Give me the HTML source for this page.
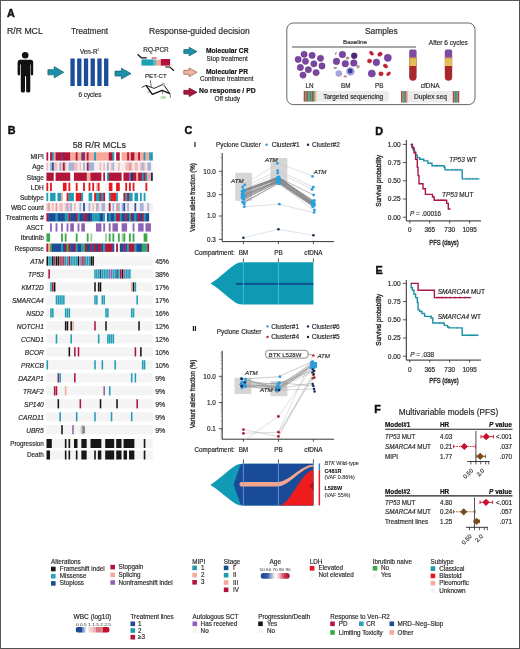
<!DOCTYPE html>
<html><head><meta charset="utf-8"><style>
html,body{margin:0;padding:0;background:#fff;}
body{width:520px;height:649px;overflow:hidden;}
svg{display:block;font-family:"Liberation Sans", sans-serif;will-change:transform;}
</style></head><body>
<svg width="520" height="649" viewBox="0 0 520 649">
<rect x="0" y="0" width="520" height="649" fill="#fff"/>
<text x="7.00" y="16.60" font-size="10.8" font-weight="bold" fill="#111" stroke="#111" stroke-width="0.45">A</text>
<text x="7.00" y="34.20" font-size="8.7" fill="#2a2a2a" stroke="#2a2a2a" stroke-width="0.18">R/R MCL</text>
<text x="71.00" y="34.20" font-size="8.2" fill="#2a2a2a" stroke="#2a2a2a" stroke-width="0.18">Treatment</text>
<text x="149.00" y="34.20" font-size="8.55" fill="#2a2a2a" stroke="#2a2a2a" stroke-width="0.18">Response-guided decision</text>
<circle cx="25.20" cy="55.30" r="3.30" fill="#111" stroke="none" stroke-width="0.5"/>
<path d="M19.8,59.8 L30.6,59.8 Q33.2,59.8 33.2,62.4 L33.2,74 Q33.2,75.4 32,75.4 Q30.8,75.4 30.8,74 L30.8,64.6 L30.3,64.6 L30.3,91 Q30.3,92.6 28.3,92.6 Q26.1,92.6 26.1,91 L26.1,76.2 L25.0,76.2 L25.0,91 Q25.0,92.6 23.0,92.6 Q20.8,92.6 20.8,91 L20.8,64.6 L20.1,64.6 L20.1,74 Q20.1,75.4 18.9,75.4 Q17.6,75.4 17.6,74 L17.6,62.4 Q17.6,59.8 19.8,59.8 Z" fill="#111"/>
<polygon points="47.90,69.65 54.26,69.65 54.26,66.60 63.80,72.25 54.26,77.90 54.26,74.85 47.90,74.85" fill="#1d8fa8" stroke="#14606f" stroke-width="0.7" stroke-linejoin="round"/>
<polygon points="115.00,71.12 121.40,71.12 121.40,68.20 131.00,73.60 121.40,79.00 121.40,76.08 115.00,76.08" fill="#1d8fa8" stroke="#14606f" stroke-width="0.7" stroke-linejoin="round"/>
<rect x="70.40" y="58.50" width="4.30" height="27.50" fill="#1b4d9b"/>
<rect x="77.13" y="58.50" width="4.30" height="27.50" fill="#1b4d9b"/>
<rect x="83.86" y="58.50" width="4.30" height="27.50" fill="#1b4d9b"/>
<rect x="90.59" y="58.50" width="4.30" height="27.50" fill="#1b4d9b"/>
<rect x="97.32" y="58.50" width="4.30" height="27.50" fill="#1b4d9b"/>
<rect x="104.05" y="58.50" width="4.30" height="27.50" fill="#1b4d9b"/>
<text x="80.00" y="53.70" font-size="6.3" fill="#2a2a2a" stroke="#2a2a2a" stroke-width="0.17">Ven-R</text>
<text x="97.30" y="51.00" font-size="3.6" fill="#2a2a2a">2</text>
<text x="78.40" y="96.70" font-size="6.4" fill="#2a2a2a" stroke="#2a2a2a" stroke-width="0.18">6 cycles</text>
<text x="143.30" y="51.80" font-size="6.45" fill="#2a2a2a" stroke="#2a2a2a" stroke-width="0.18">RQ-PCR</text>
<polyline points="137.50,54.30 141.40,57.80 146.80,57.80" fill="none" stroke="#111" stroke-width="1.15"/>
<rect x="141.50" y="59.40" width="11.80" height="6.20" fill="#1d9fb2"/>
<rect x="153.00" y="59.60" width="3.60" height="6.00" fill="#5fb5c0"/>
<rect x="156.30" y="59.60" width="4.90" height="6.00" fill="#f2a898"/>
<rect x="160.90" y="59.00" width="9.20" height="6.60" fill="#b2133c"/>
<line x1="151.60" y1="58.00" x2="156.60" y2="58.00" stroke="#b2133c" stroke-width="1.0"/>
<polyline points="165.20,67.00 169.80,67.00 174.00,70.80" fill="none" stroke="#111" stroke-width="1.15"/>
<text x="145.00" y="77.80" font-size="6.1" fill="#2a2a2a" stroke="#2a2a2a" stroke-width="0.15">PET-CT</text>
<path d="M141.7,87.5 L146,85.3" stroke="#111" stroke-width="0.8" fill="none"/>
<path d="M146,85.3 L152.3,94.4 L162.1,90.4 L169.8,93.7" stroke="#111" stroke-width="1.35" fill="none" stroke-linejoin="round"/>
<path d="M146,85.3 L154,88.4 L162.6,84.6" stroke="#111" stroke-width="0.9" fill="none"/>
<path d="M164.2,85.4 L169.8,93.7" stroke="#111" stroke-width="1.0" fill="none"/>
<circle cx="163.40" cy="84.20" r="0.90" fill="none" stroke="#333" stroke-width="0.5"/>
<path d="M150.4,80.2 L151.2,87.0" stroke="#111" stroke-width="0.6" fill="none"/>
<path d="M170.2,93.7 L170.4,97.7" stroke="#111" stroke-width="0.6" fill="none"/>
<path d="M147.5,92.3 L149.6,91.8" stroke="#111" stroke-width="0.5" fill="none"/>
<path d="M162.1,90.4 L162.6,94.2" stroke="#111" stroke-width="0.5" fill="none"/>
<text x="160.00" y="99.20" font-size="3.6" fill="#6ab26a">18F</text>
<polygon points="183.80,49.58 189.08,49.58 189.08,47.20 197.00,51.60 189.08,56.00 189.08,53.62 183.80,53.62" fill="#1d8fa8" stroke="#14606f" stroke-width="0.7" stroke-linejoin="round"/>
<polygon points="183.80,70.32 189.08,70.32 189.08,68.00 197.00,72.30 189.08,76.60 189.08,74.28 183.80,74.28" fill="#f2b3a0" stroke="#8a5a48" stroke-width="0.7" stroke-linejoin="round"/>
<polygon points="183.80,90.32 189.08,90.32 189.08,88.00 197.00,92.30 189.08,96.60 189.08,94.28 183.80,94.28" fill="#a9163c" stroke="#6a0a22" stroke-width="0.7" stroke-linejoin="round"/>
<text x="206.00" y="53.00" font-size="6.65" font-weight="bold" fill="#111" stroke="#111" stroke-width="0.18">Molecular CR</text>
<text x="206.50" y="60.60" font-size="6.3" fill="#2a2a2a" stroke="#2a2a2a" stroke-width="0.17">Stop treatment</text>
<text x="206.00" y="73.70" font-size="6.65" font-weight="bold" fill="#111" stroke="#111" stroke-width="0.18">Molecular PR</text>
<text x="200.00" y="81.30" font-size="6.3" fill="#2a2a2a" stroke="#2a2a2a" stroke-width="0.17">Continue treatment</text>
<text x="199.00" y="92.90" font-size="6.85" font-weight="bold" fill="#111" stroke="#111" stroke-width="0.18">No response / PD</text>
<text x="214.60" y="100.50" font-size="6.4" fill="#2a2a2a" stroke="#2a2a2a" stroke-width="0.18">Off study</text>
<rect x="286.8" y="23.0" width="188.2" height="81.6" rx="6.5" ry="6.5" fill="none" stroke="#555" stroke-width="0.9"/>
<text x="365.00" y="34.30" font-size="8.4" fill="#2a2a2a" stroke="#2a2a2a" stroke-width="0.18">Samples</text>
<text x="343.00" y="44.30" font-size="6.25" fill="#2a2a2a" stroke="#2a2a2a" stroke-width="0.17">Baseline</text>
<line x1="292.00" y1="47.00" x2="416.00" y2="47.00" stroke="#8a8a8a" stroke-width="1.3"/>
<text x="428.80" y="44.50" font-size="6.5" fill="#2a2a2a" stroke="#2a2a2a" stroke-width="0.18">After 6 cycles</text>
<circle cx="304.10" cy="54.30" r="3.15" fill="#7a46a2" stroke="#5a2d80" stroke-width="0.45"/>
<circle cx="312.10" cy="55.40" r="3.15" fill="#7a46a2" stroke="#5a2d80" stroke-width="0.45"/>
<circle cx="298.20" cy="59.40" r="3.15" fill="#7a46a2" stroke="#5a2d80" stroke-width="0.45"/>
<circle cx="305.50" cy="61.30" r="3.15" fill="#7a46a2" stroke="#5a2d80" stroke-width="0.45"/>
<circle cx="320.50" cy="58.30" r="3.15" fill="#7a46a2" stroke="#5a2d80" stroke-width="0.45"/>
<circle cx="313.90" cy="63.80" r="3.15" fill="#7a46a2" stroke="#5a2d80" stroke-width="0.45"/>
<circle cx="322.00" cy="66.00" r="3.15" fill="#7a46a2" stroke="#5a2d80" stroke-width="0.45"/>
<circle cx="300.40" cy="67.50" r="3.15" fill="#7a46a2" stroke="#5a2d80" stroke-width="0.45"/>
<circle cx="308.40" cy="69.70" r="3.15" fill="#7a46a2" stroke="#5a2d80" stroke-width="0.45"/>
<circle cx="316.10" cy="72.60" r="3.15" fill="#7a46a2" stroke="#5a2d80" stroke-width="0.45"/>
<circle cx="303.00" cy="75.10" r="3.15" fill="#7a46a2" stroke="#5a2d80" stroke-width="0.45"/>
<ellipse cx="335.8" cy="53.5" rx="0.8" ry="1.6" fill="#b89098" transform="rotate(20 335.8 53.5)"/>
<ellipse cx="347.6" cy="58.1" rx="1.9" ry="1.7" fill="#b89098" transform="rotate(0 347.6 58.1)"/>
<ellipse cx="335.2" cy="67.9" rx="1.7" ry="1.2" fill="#b89098" transform="rotate(0 335.2 67.9)"/>
<ellipse cx="358.0" cy="66.6" rx="1.6" ry="1.9" fill="#b89098" transform="rotate(0 358.0 66.6)"/>
<ellipse cx="345.3" cy="76.4" rx="1.7" ry="1.2" fill="#b89098" transform="rotate(0 345.3 76.4)"/>
<circle cx="342.40" cy="54.50" r="3.30" fill="#7a46a2" stroke="#5a2d80" stroke-width="0.45"/>
<circle cx="336.50" cy="61.40" r="3.30" fill="#7a46a2" stroke="#5a2d80" stroke-width="0.45"/>
<circle cx="345.30" cy="63.70" r="3.30" fill="#7a46a2" stroke="#5a2d80" stroke-width="0.45"/>
<circle cx="353.80" cy="63.00" r="3.30" fill="#7a46a2" stroke="#5a2d80" stroke-width="0.45"/>
<circle cx="354.20" cy="55.80" r="3.00" fill="#4e2a78" stroke="#3c1e62" stroke-width="0.4"/>
<circle cx="338.80" cy="73.50" r="3.30" fill="#aaa4dc" stroke="none" stroke-width="0.5"/>
<circle cx="350.40" cy="71.40" r="4.20" fill="#9aa0dc" stroke="none" stroke-width="0.5"/>
<circle cx="350.20" cy="71.00" r="2.40" fill="#3a3c98" stroke="none" stroke-width="0.5"/>
<circle cx="387.80" cy="57.80" r="3.60" fill="#7a46a2" stroke="#5a2d80" stroke-width="0.45"/>
<circle cx="376.40" cy="62.40" r="3.30" fill="#7a46a2" stroke="#5a2d80" stroke-width="0.45"/>
<circle cx="371.80" cy="73.50" r="3.60" fill="#7a46a2" stroke="#5a2d80" stroke-width="0.45"/>
<ellipse cx="371.5" cy="53.2" rx="2.4" ry="1.6" fill="#c41f35" stroke="#9a1228" stroke-width="0.35" transform="rotate(40 371.5 53.2)"/>
<ellipse cx="380.0" cy="54.2" rx="2.4" ry="1.9" fill="#c41f35" stroke="#9a1228" stroke-width="0.35" transform="rotate(-30 380.0 54.2)"/>
<ellipse cx="369.5" cy="61.1" rx="2.2" ry="2.0" fill="#c41f35" stroke="#9a1228" stroke-width="0.35" transform="rotate(0 369.5 61.1)"/>
<ellipse cx="385.5" cy="66.0" rx="2.4" ry="1.8" fill="#c41f35" stroke="#9a1228" stroke-width="0.35" transform="rotate(30 385.5 66.0)"/>
<ellipse cx="381.0" cy="73.8" rx="2.3" ry="2.1" fill="#c41f35" stroke="#9a1228" stroke-width="0.35" transform="rotate(0 381.0 73.8)"/>
<ellipse cx="388.5" cy="73.8" rx="2.4" ry="1.5" fill="#c41f35" stroke="#9a1228" stroke-width="0.35" transform="rotate(-40 388.5 73.8)"/>
<text x="305.60" y="88.00" font-size="6.3" fill="#2a2a2a" stroke="#2a2a2a" stroke-width="0.17">LN</text>
<text x="341.00" y="88.00" font-size="6.3" fill="#2a2a2a" stroke="#2a2a2a" stroke-width="0.17">BM</text>
<text x="375.00" y="88.00" font-size="6.3" fill="#2a2a2a" stroke="#2a2a2a" stroke-width="0.17">PB</text>
<text x="420.80" y="87.70" font-size="6.5" fill="#2a2a2a" stroke="#2a2a2a" stroke-width="0.18">cfDNA</text>
<path d="M409.2,57.8 v-6.4 a1.8,1.8 0 0 1 1.8,-1.8 h3.8 a1.8,1.8 0 0 1 1.8,1.8 v6.4 Z" fill="#7f4c9e"/>
<path d="M409.2,57.8 h7.4 v19.3 a3.7,3.7 0 0 1 -7.4,0 Z" fill="#a8282c"/>
<rect x="409.40" y="57.80" width="7.00" height="8.20" fill="#e2be55"/>
<rect x="409.40" y="57.80" width="7.00" height="1.00" fill="#c89b58"/>
<path d="M444.8,57.8 v-6.4 a1.8,1.8 0 0 1 1.8,-1.8 h3.8 a1.8,1.8 0 0 1 1.8,1.8 v6.4 Z" fill="#7f4c9e"/>
<path d="M444.8,57.8 h7.4 v19.3 a3.7,3.7 0 0 1 -7.4,0 Z" fill="#a8282c"/>
<rect x="445.00" y="57.80" width="7.00" height="8.20" fill="#e2be55"/>
<rect x="445.00" y="57.80" width="7.00" height="1.00" fill="#c89b58"/>
<rect x="313.0" y="91.0" width="76.0" height="10.6" rx="3.5" fill="#ececec"/>
<rect x="303.70" y="91.00" width="1.62" height="10.60" fill="#c93a3a"/>
<rect x="305.27" y="91.00" width="1.62" height="10.60" fill="#3c9c5a"/>
<rect x="306.85" y="91.00" width="1.62" height="10.60" fill="#c93a3a"/>
<rect x="308.43" y="91.00" width="1.62" height="10.60" fill="#34a0aa"/>
<rect x="310.00" y="91.00" width="1.62" height="10.60" fill="#3c9c5a"/>
<rect x="311.57" y="91.00" width="1.62" height="10.60" fill="#c93a3a"/>
<rect x="313.15" y="91.00" width="1.62" height="10.60" fill="#3c9c5a"/>
<rect x="314.72" y="91.00" width="1.62" height="10.60" fill="#e0b8a0"/>
<text x="323.30" y="98.90" font-size="6.45" fill="#2a2a2a" stroke="#2a2a2a" stroke-width="0.18">Targeted sequencing</text>
<rect x="404.0" y="91.0" width="52.0" height="11.6" rx="3.0" fill="#ececec"/>
<rect x="401.00" y="91.00" width="1.45" height="11.60" fill="#c93a3a"/>
<rect x="402.40" y="91.00" width="1.45" height="11.60" fill="#3c9c5a"/>
<rect x="403.80" y="91.00" width="1.45" height="11.60" fill="#34a0aa"/>
<rect x="405.20" y="91.00" width="1.45" height="11.60" fill="#c93a3a"/>
<rect x="406.60" y="91.00" width="1.45" height="11.60" fill="#e0b8a0"/>
<rect x="452.80" y="91.00" width="1.65" height="11.60" fill="#c93a3a"/>
<rect x="454.40" y="91.00" width="1.65" height="11.60" fill="#3c9c5a"/>
<rect x="456.00" y="91.00" width="1.65" height="11.60" fill="#34a0aa"/>
<rect x="457.60" y="91.00" width="1.65" height="11.60" fill="#c93a3a"/>
<text x="414.00" y="99.40" font-size="6.6" fill="#2a2a2a" stroke="#2a2a2a" stroke-width="0.18">Duplex seq</text>
<text x="7.70" y="134.20" font-size="10.8" font-weight="bold" fill="#111" stroke="#111" stroke-width="0.45">B</text>
<text x="72.70" y="147.90" font-size="8.9" fill="#2a2a2a" stroke="#2a2a2a" stroke-width="0.18">58 R/R MCLs</text>
<rect x="46.40" y="152.30" width="1.83" height="8.30" fill="#b0163c"/>
<rect x="50.07" y="152.30" width="2.18" height="8.30" fill="#b0163c"/>
<rect x="51.90" y="152.30" width="2.18" height="8.30" fill="#1f9db5"/>
<rect x="53.74" y="152.30" width="2.18" height="8.30" fill="#f4a99a"/>
<rect x="55.57" y="152.30" width="5.85" height="8.30" fill="#b0163c"/>
<rect x="61.08" y="152.30" width="2.18" height="8.30" fill="#7a3466"/>
<rect x="62.91" y="152.30" width="7.69" height="8.30" fill="#b0163c"/>
<rect x="70.25" y="152.30" width="5.85" height="8.30" fill="#f4a99a"/>
<rect x="75.75" y="152.30" width="2.18" height="8.30" fill="#b0163c"/>
<rect x="77.59" y="152.30" width="4.02" height="8.30" fill="#f4a99a"/>
<rect x="81.26" y="152.30" width="4.02" height="8.30" fill="#7a3466"/>
<rect x="84.92" y="152.30" width="2.18" height="8.30" fill="#f4a99a"/>
<rect x="86.76" y="152.30" width="2.18" height="8.30" fill="#b0163c"/>
<rect x="88.59" y="152.30" width="5.85" height="8.30" fill="#f4a99a"/>
<rect x="94.10" y="152.30" width="2.18" height="8.30" fill="#1f9db5"/>
<rect x="95.93" y="152.30" width="13.19" height="8.30" fill="#f4a99a"/>
<rect x="108.77" y="152.30" width="4.02" height="8.30" fill="#b0163c"/>
<rect x="112.44" y="152.30" width="1.83" height="8.30" fill="#1f9db5"/>
<rect x="116.11" y="152.30" width="3.67" height="8.30" fill="#b0163c"/>
<rect x="121.61" y="152.30" width="5.85" height="8.30" fill="#f4a99a"/>
<rect x="127.12" y="152.30" width="2.18" height="8.30" fill="#b0163c"/>
<rect x="128.95" y="152.30" width="2.18" height="8.30" fill="#f4a99a"/>
<rect x="130.79" y="152.30" width="4.02" height="8.30" fill="#b0163c"/>
<rect x="134.46" y="152.30" width="4.02" height="8.30" fill="#f4a99a"/>
<rect x="138.12" y="152.30" width="2.18" height="8.30" fill="#b0163c"/>
<rect x="139.96" y="152.30" width="4.02" height="8.30" fill="#f4a99a"/>
<rect x="143.63" y="152.30" width="2.18" height="8.30" fill="#1f9db5"/>
<rect x="145.46" y="152.30" width="4.02" height="8.30" fill="#f4a99a"/>
<rect x="149.13" y="152.30" width="3.67" height="8.30" fill="#1f9db5"/>
<text x="43.80" y="159.30" font-size="6.5" text-anchor="end" fill="#2a2a2a" stroke="#2a2a2a" stroke-width="0.18">MIPI</text>
<rect x="46.40" y="162.44" width="2.18" height="8.30" fill="#f3bdbd"/>
<rect x="48.23" y="162.44" width="2.18" height="8.30" fill="#f4eeef"/>
<rect x="50.07" y="162.44" width="2.18" height="8.30" fill="#a3b4da"/>
<rect x="51.90" y="162.44" width="2.18" height="8.30" fill="#2c56a0"/>
<rect x="53.74" y="162.44" width="4.02" height="8.30" fill="#f3bdbd"/>
<rect x="57.41" y="162.44" width="2.18" height="8.30" fill="#f4eeef"/>
<rect x="59.24" y="162.44" width="2.18" height="8.30" fill="#a3b4da"/>
<rect x="61.08" y="162.44" width="2.18" height="8.30" fill="#f3bdbd"/>
<rect x="62.91" y="162.44" width="2.18" height="8.30" fill="#a3243f"/>
<rect x="64.74" y="162.44" width="2.18" height="8.30" fill="#f3bdbd"/>
<rect x="66.58" y="162.44" width="2.18" height="8.30" fill="#f4eeef"/>
<rect x="68.41" y="162.44" width="5.85" height="8.30" fill="#a3b4da"/>
<rect x="73.92" y="162.44" width="4.02" height="8.30" fill="#f3bdbd"/>
<rect x="77.59" y="162.44" width="2.18" height="8.30" fill="#f4eeef"/>
<rect x="79.42" y="162.44" width="2.18" height="8.30" fill="#f3bdbd"/>
<rect x="81.26" y="162.44" width="2.18" height="8.30" fill="#f4eeef"/>
<rect x="83.09" y="162.44" width="2.18" height="8.30" fill="#a3b4da"/>
<rect x="84.92" y="162.44" width="2.18" height="8.30" fill="#f4eeef"/>
<rect x="86.76" y="162.44" width="2.18" height="8.30" fill="#a3243f"/>
<rect x="88.59" y="162.44" width="5.85" height="8.30" fill="#a3b4da"/>
<rect x="94.10" y="162.44" width="5.85" height="8.30" fill="#f4eeef"/>
<rect x="99.60" y="162.44" width="2.18" height="8.30" fill="#f3bdbd"/>
<rect x="101.43" y="162.44" width="2.18" height="8.30" fill="#f4eeef"/>
<rect x="103.27" y="162.44" width="2.18" height="8.30" fill="#f3bdbd"/>
<rect x="105.10" y="162.44" width="2.18" height="8.30" fill="#f4eeef"/>
<rect x="106.94" y="162.44" width="2.18" height="8.30" fill="#a3b4da"/>
<rect x="108.77" y="162.44" width="2.18" height="8.30" fill="#f4eeef"/>
<rect x="110.61" y="162.44" width="2.18" height="8.30" fill="#f3bdbd"/>
<rect x="112.44" y="162.44" width="2.18" height="8.30" fill="#a3b4da"/>
<rect x="114.28" y="162.44" width="4.02" height="8.30" fill="#f4eeef"/>
<rect x="117.94" y="162.44" width="2.18" height="8.30" fill="#f3bdbd"/>
<rect x="119.78" y="162.44" width="5.85" height="8.30" fill="#f4eeef"/>
<rect x="125.28" y="162.44" width="4.02" height="8.30" fill="#f3bdbd"/>
<rect x="128.95" y="162.44" width="2.18" height="8.30" fill="#e89a9a"/>
<rect x="130.79" y="162.44" width="2.18" height="8.30" fill="#f3bdbd"/>
<rect x="132.62" y="162.44" width="2.18" height="8.30" fill="#f4eeef"/>
<rect x="134.46" y="162.44" width="4.02" height="8.30" fill="#f3bdbd"/>
<rect x="138.12" y="162.44" width="2.18" height="8.30" fill="#f4eeef"/>
<rect x="139.96" y="162.44" width="2.18" height="8.30" fill="#f3bdbd"/>
<rect x="141.79" y="162.44" width="2.18" height="8.30" fill="#a3b4da"/>
<rect x="143.63" y="162.44" width="2.18" height="8.30" fill="#f3bdbd"/>
<rect x="145.46" y="162.44" width="2.18" height="8.30" fill="#f4eeef"/>
<rect x="147.30" y="162.44" width="4.02" height="8.30" fill="#a3b4da"/>
<rect x="150.97" y="162.44" width="1.83" height="8.30" fill="#f4eeef"/>
<text x="43.80" y="169.44" font-size="6.5" text-anchor="end" fill="#2a2a2a" stroke="#2a2a2a" stroke-width="0.18">Age</text>
<rect x="46.40" y="172.58" width="7.34" height="8.30" fill="#b0163c"/>
<rect x="55.57" y="172.58" width="14.68" height="8.30" fill="#b0163c"/>
<rect x="73.92" y="172.58" width="13.19" height="8.30" fill="#b0163c"/>
<rect x="86.76" y="172.58" width="4.02" height="8.30" fill="#f4a99a"/>
<rect x="90.43" y="172.58" width="11.01" height="8.30" fill="#b0163c"/>
<rect x="103.27" y="172.58" width="1.83" height="8.30" fill="#b0163c"/>
<rect x="106.94" y="172.58" width="2.18" height="8.30" fill="#1f9db5"/>
<rect x="108.77" y="172.58" width="12.84" height="8.30" fill="#b0163c"/>
<rect x="123.45" y="172.58" width="5.85" height="8.30" fill="#b0163c"/>
<rect x="128.95" y="172.58" width="2.18" height="8.30" fill="#8e63b3"/>
<rect x="130.79" y="172.58" width="2.18" height="8.30" fill="#1d2f66"/>
<rect x="132.62" y="172.58" width="4.02" height="8.30" fill="#b0163c"/>
<rect x="136.29" y="172.58" width="2.18" height="8.30" fill="#f4a99a"/>
<rect x="138.12" y="172.58" width="4.02" height="8.30" fill="#b0163c"/>
<rect x="141.79" y="172.58" width="2.18" height="8.30" fill="#1f9db5"/>
<rect x="143.63" y="172.58" width="2.18" height="8.30" fill="#b0163c"/>
<rect x="145.46" y="172.58" width="2.18" height="8.30" fill="#1f9db5"/>
<rect x="147.30" y="172.58" width="4.02" height="8.30" fill="#f4a99a"/>
<rect x="150.97" y="172.58" width="1.83" height="8.30" fill="#1d2f66"/>
<text x="43.80" y="179.58" font-size="6.5" text-anchor="end" fill="#2a2a2a" stroke="#2a2a2a" stroke-width="0.18">Stage</text>
<rect x="46.40" y="182.72" width="1.83" height="8.30" fill="#e5191e"/>
<rect x="50.07" y="182.72" width="1.83" height="8.30" fill="#e5191e"/>
<rect x="62.91" y="182.72" width="3.67" height="8.30" fill="#e5191e"/>
<rect x="68.41" y="182.72" width="1.83" height="8.30" fill="#e5191e"/>
<rect x="75.75" y="182.72" width="1.83" height="8.30" fill="#e5191e"/>
<rect x="83.09" y="182.72" width="1.83" height="8.30" fill="#e5191e"/>
<rect x="88.59" y="182.72" width="1.83" height="8.30" fill="#e5191e"/>
<rect x="92.26" y="182.72" width="1.83" height="8.30" fill="#e5191e"/>
<rect x="95.93" y="182.72" width="2.18" height="8.30" fill="#f3bdbd"/>
<rect x="97.77" y="182.72" width="1.83" height="8.30" fill="#e5191e"/>
<rect x="105.10" y="182.72" width="1.83" height="8.30" fill="#eeeeee"/>
<rect x="108.77" y="182.72" width="3.67" height="8.30" fill="#e5191e"/>
<rect x="116.11" y="182.72" width="3.67" height="8.30" fill="#e5191e"/>
<rect x="125.28" y="182.72" width="1.83" height="8.30" fill="#e5191e"/>
<rect x="128.95" y="182.72" width="1.83" height="8.30" fill="#e5191e"/>
<rect x="132.62" y="182.72" width="1.83" height="8.30" fill="#e5191e"/>
<rect x="145.46" y="182.72" width="1.83" height="8.30" fill="#e5191e"/>
<text x="43.80" y="189.72" font-size="6.5" text-anchor="end" fill="#2a2a2a" stroke="#2a2a2a" stroke-width="0.18">LDH</text>
<rect x="46.40" y="192.86" width="1.83" height="8.30" fill="#1f9db5"/>
<rect x="50.07" y="192.86" width="5.50" height="8.30" fill="#1f9db5"/>
<rect x="57.41" y="192.86" width="4.02" height="8.30" fill="#1f9db5"/>
<rect x="61.08" y="192.86" width="1.83" height="8.30" fill="#f4a99a"/>
<rect x="66.58" y="192.86" width="2.18" height="8.30" fill="#e5191e"/>
<rect x="68.41" y="192.86" width="5.50" height="8.30" fill="#1f9db5"/>
<rect x="75.75" y="192.86" width="4.02" height="8.30" fill="#e5191e"/>
<rect x="79.42" y="192.86" width="2.18" height="8.30" fill="#b0163c"/>
<rect x="81.26" y="192.86" width="1.83" height="8.30" fill="#1f9db5"/>
<rect x="88.59" y="192.86" width="3.67" height="8.30" fill="#1f9db5"/>
<rect x="94.10" y="192.86" width="2.18" height="8.30" fill="#e5191e"/>
<rect x="95.93" y="192.86" width="4.02" height="8.30" fill="#1f9db5"/>
<rect x="99.60" y="192.86" width="2.18" height="8.30" fill="#b0163c"/>
<rect x="101.43" y="192.86" width="2.18" height="8.30" fill="#1f9db5"/>
<rect x="103.27" y="192.86" width="1.83" height="8.30" fill="#b0163c"/>
<rect x="108.77" y="192.86" width="2.18" height="8.30" fill="#1f9db5"/>
<rect x="110.61" y="192.86" width="5.85" height="8.30" fill="#e5191e"/>
<rect x="116.11" y="192.86" width="1.83" height="8.30" fill="#1f9db5"/>
<rect x="123.45" y="192.86" width="2.18" height="8.30" fill="#b0163c"/>
<rect x="125.28" y="192.86" width="2.18" height="8.30" fill="#1f9db5"/>
<rect x="127.12" y="192.86" width="2.18" height="8.30" fill="#b0163c"/>
<rect x="128.95" y="192.86" width="3.67" height="8.30" fill="#1f9db5"/>
<rect x="134.46" y="192.86" width="3.67" height="8.30" fill="#1f9db5"/>
<rect x="139.96" y="192.86" width="1.83" height="8.30" fill="#1f9db5"/>
<rect x="143.63" y="192.86" width="1.83" height="8.30" fill="#1f9db5"/>
<text x="43.80" y="199.86" font-size="6.5" text-anchor="end" fill="#2a2a2a" stroke="#2a2a2a" stroke-width="0.18">Subtype</text>
<rect x="46.40" y="203.00" width="2.18" height="8.30" fill="#f3bdbd"/>
<rect x="48.23" y="203.00" width="2.18" height="8.30" fill="#e89a9a"/>
<rect x="50.07" y="203.00" width="2.18" height="8.30" fill="#f4eeef"/>
<rect x="51.90" y="203.00" width="2.18" height="8.30" fill="#f3bdbd"/>
<rect x="53.74" y="203.00" width="2.18" height="8.30" fill="#f4eeef"/>
<rect x="55.57" y="203.00" width="2.18" height="8.30" fill="#e89a9a"/>
<rect x="57.41" y="203.00" width="2.18" height="8.30" fill="#f4eeef"/>
<rect x="59.24" y="203.00" width="4.02" height="8.30" fill="#f3bdbd"/>
<rect x="62.91" y="203.00" width="2.18" height="8.30" fill="#f4eeef"/>
<rect x="64.74" y="203.00" width="2.18" height="8.30" fill="#f3bdbd"/>
<rect x="66.58" y="203.00" width="2.18" height="8.30" fill="#a3b4da"/>
<rect x="68.41" y="203.00" width="2.18" height="8.30" fill="#f3bdbd"/>
<rect x="70.25" y="203.00" width="2.18" height="8.30" fill="#a3b4da"/>
<rect x="72.08" y="203.00" width="2.18" height="8.30" fill="#f4eeef"/>
<rect x="73.92" y="203.00" width="2.18" height="8.30" fill="#f3bdbd"/>
<rect x="75.75" y="203.00" width="4.02" height="8.30" fill="#f4eeef"/>
<rect x="79.42" y="203.00" width="2.18" height="8.30" fill="#a3b4da"/>
<rect x="81.26" y="203.00" width="2.18" height="8.30" fill="#f4eeef"/>
<rect x="83.09" y="203.00" width="2.18" height="8.30" fill="#2c56a0"/>
<rect x="84.92" y="203.00" width="4.02" height="8.30" fill="#f4eeef"/>
<rect x="88.59" y="203.00" width="2.18" height="8.30" fill="#a3b4da"/>
<rect x="90.43" y="203.00" width="2.18" height="8.30" fill="#f4eeef"/>
<rect x="92.26" y="203.00" width="2.18" height="8.30" fill="#f3bdbd"/>
<rect x="94.10" y="203.00" width="2.18" height="8.30" fill="#f4eeef"/>
<rect x="95.93" y="203.00" width="2.18" height="8.30" fill="#a3b4da"/>
<rect x="97.77" y="203.00" width="2.18" height="8.30" fill="#f3bdbd"/>
<rect x="99.60" y="203.00" width="2.18" height="8.30" fill="#f4eeef"/>
<rect x="101.43" y="203.00" width="4.02" height="8.30" fill="#a3b4da"/>
<rect x="105.10" y="203.00" width="4.02" height="8.30" fill="#f4eeef"/>
<rect x="108.77" y="203.00" width="2.18" height="8.30" fill="#a3243f"/>
<rect x="110.61" y="203.00" width="2.18" height="8.30" fill="#f4eeef"/>
<rect x="112.44" y="203.00" width="2.18" height="8.30" fill="#a3b4da"/>
<rect x="114.28" y="203.00" width="2.18" height="8.30" fill="#f4eeef"/>
<rect x="116.11" y="203.00" width="2.18" height="8.30" fill="#e89a9a"/>
<rect x="117.94" y="203.00" width="2.18" height="8.30" fill="#a3b4da"/>
<rect x="119.78" y="203.00" width="2.18" height="8.30" fill="#f4eeef"/>
<rect x="121.61" y="203.00" width="2.18" height="8.30" fill="#a3b4da"/>
<rect x="123.45" y="203.00" width="2.18" height="8.30" fill="#2c56a0"/>
<rect x="125.28" y="203.00" width="2.18" height="8.30" fill="#f4eeef"/>
<rect x="127.12" y="203.00" width="2.18" height="8.30" fill="#a3b4da"/>
<rect x="128.95" y="203.00" width="5.85" height="8.30" fill="#f4eeef"/>
<rect x="134.46" y="203.00" width="2.18" height="8.30" fill="#2c56a0"/>
<rect x="136.29" y="203.00" width="4.02" height="8.30" fill="#f4eeef"/>
<rect x="139.96" y="203.00" width="4.02" height="8.30" fill="#a3b4da"/>
<rect x="143.63" y="203.00" width="4.02" height="8.30" fill="#f4eeef"/>
<rect x="147.30" y="203.00" width="2.18" height="8.30" fill="#a3b4da"/>
<rect x="149.13" y="203.00" width="3.67" height="8.30" fill="#f4eeef"/>
<text x="43.80" y="210.00" font-size="6.5" text-anchor="end" fill="#2a2a2a" stroke="#2a2a2a" stroke-width="0.18">WBC count</text>
<rect x="46.40" y="213.14" width="2.18" height="8.30" fill="#b0163c"/>
<rect x="48.23" y="213.14" width="7.69" height="8.30" fill="#1d4c96"/>
<rect x="55.57" y="213.14" width="2.18" height="8.30" fill="#1f9db5"/>
<rect x="57.41" y="213.14" width="7.69" height="8.30" fill="#1d4c96"/>
<rect x="64.74" y="213.14" width="4.02" height="8.30" fill="#1f9db5"/>
<rect x="68.41" y="213.14" width="2.18" height="8.30" fill="#b0163c"/>
<rect x="70.25" y="213.14" width="5.85" height="8.30" fill="#1d4c96"/>
<rect x="75.75" y="213.14" width="2.18" height="8.30" fill="#b0163c"/>
<rect x="77.59" y="213.14" width="2.18" height="8.30" fill="#1f9db5"/>
<rect x="79.42" y="213.14" width="4.02" height="8.30" fill="#1d4c96"/>
<rect x="83.09" y="213.14" width="2.18" height="8.30" fill="#7a3466"/>
<rect x="84.92" y="213.14" width="2.18" height="8.30" fill="#b0163c"/>
<rect x="86.76" y="213.14" width="2.18" height="8.30" fill="#1d4c96"/>
<rect x="88.59" y="213.14" width="2.18" height="8.30" fill="#1d2f66"/>
<rect x="90.43" y="213.14" width="2.18" height="8.30" fill="#1d4c96"/>
<rect x="92.26" y="213.14" width="7.69" height="8.30" fill="#1f9db5"/>
<rect x="99.60" y="213.14" width="4.02" height="8.30" fill="#1d4c96"/>
<rect x="103.27" y="213.14" width="2.18" height="8.30" fill="#1f9db5"/>
<rect x="105.10" y="213.14" width="2.18" height="8.30" fill="#eeeeee"/>
<rect x="106.94" y="213.14" width="2.18" height="8.30" fill="#1d4c96"/>
<rect x="108.77" y="213.14" width="2.18" height="8.30" fill="#1f9db5"/>
<rect x="110.61" y="213.14" width="4.02" height="8.30" fill="#1d4c96"/>
<rect x="114.28" y="213.14" width="2.18" height="8.30" fill="#1f9db5"/>
<rect x="116.11" y="213.14" width="4.02" height="8.30" fill="#b0163c"/>
<rect x="119.78" y="213.14" width="2.18" height="8.30" fill="#1f9db5"/>
<rect x="121.61" y="213.14" width="4.02" height="8.30" fill="#1d4c96"/>
<rect x="125.28" y="213.14" width="2.18" height="8.30" fill="#b0163c"/>
<rect x="127.12" y="213.14" width="2.18" height="8.30" fill="#1d4c96"/>
<rect x="128.95" y="213.14" width="2.18" height="8.30" fill="#1f9db5"/>
<rect x="130.79" y="213.14" width="2.18" height="8.30" fill="#b0163c"/>
<rect x="132.62" y="213.14" width="2.18" height="8.30" fill="#1d4c96"/>
<rect x="134.46" y="213.14" width="2.18" height="8.30" fill="#1f9db5"/>
<rect x="136.29" y="213.14" width="2.18" height="8.30" fill="#1d4c96"/>
<rect x="138.12" y="213.14" width="2.18" height="8.30" fill="#b0163c"/>
<rect x="139.96" y="213.14" width="2.18" height="8.30" fill="#1d4c96"/>
<rect x="141.79" y="213.14" width="2.18" height="8.30" fill="#b0163c"/>
<rect x="143.63" y="213.14" width="2.18" height="8.30" fill="#1f9db5"/>
<rect x="145.46" y="213.14" width="3.67" height="8.30" fill="#1d4c96"/>
<text x="43.80" y="220.14" font-size="6.5" text-anchor="end" fill="#2a2a2a" stroke="#2a2a2a" stroke-width="0.18">Treatments #</text>
<rect x="50.07" y="223.28" width="1.83" height="8.30" fill="#8e63b3"/>
<rect x="55.57" y="223.28" width="1.83" height="8.30" fill="#8e63b3"/>
<rect x="61.08" y="223.28" width="1.83" height="8.30" fill="#8e63b3"/>
<rect x="66.58" y="223.28" width="1.83" height="8.30" fill="#8e63b3"/>
<rect x="70.25" y="223.28" width="3.67" height="8.30" fill="#8e63b3"/>
<rect x="77.59" y="223.28" width="1.83" height="8.30" fill="#8e63b3"/>
<rect x="81.26" y="223.28" width="3.67" height="8.30" fill="#8e63b3"/>
<rect x="95.93" y="223.28" width="5.50" height="8.30" fill="#8e63b3"/>
<rect x="103.27" y="223.28" width="1.83" height="8.30" fill="#8e63b3"/>
<rect x="108.77" y="223.28" width="1.83" height="8.30" fill="#8e63b3"/>
<rect x="112.44" y="223.28" width="5.50" height="8.30" fill="#8e63b3"/>
<rect x="121.61" y="223.28" width="5.50" height="8.30" fill="#8e63b3"/>
<rect x="132.62" y="223.28" width="1.83" height="8.30" fill="#8e63b3"/>
<rect x="138.12" y="223.28" width="5.50" height="8.30" fill="#8e63b3"/>
<rect x="145.46" y="223.28" width="5.50" height="8.30" fill="#8e63b3"/>
<text x="43.80" y="230.28" font-size="6.5" text-anchor="end" fill="#2a2a2a" stroke="#2a2a2a" stroke-width="0.18">ASCT</text>
<rect x="46.40" y="233.42" width="3.67" height="8.30" fill="#3aaa48"/>
<rect x="61.08" y="233.42" width="1.83" height="8.30" fill="#3aaa48"/>
<rect x="64.74" y="233.42" width="1.83" height="8.30" fill="#3aaa48"/>
<rect x="75.75" y="233.42" width="1.83" height="8.30" fill="#3aaa48"/>
<rect x="86.76" y="233.42" width="1.83" height="8.30" fill="#3aaa48"/>
<rect x="90.43" y="233.42" width="1.83" height="8.30" fill="#9fd19f"/>
<rect x="105.10" y="233.42" width="1.83" height="8.30" fill="#9fd19f"/>
<rect x="108.77" y="233.42" width="1.83" height="8.30" fill="#3aaa48"/>
<rect x="112.44" y="233.42" width="1.83" height="8.30" fill="#3aaa48"/>
<rect x="117.94" y="233.42" width="1.83" height="8.30" fill="#3aaa48"/>
<rect x="121.61" y="233.42" width="2.18" height="8.30" fill="#9fd19f"/>
<rect x="123.45" y="233.42" width="1.83" height="8.30" fill="#3aaa48"/>
<rect x="128.95" y="233.42" width="1.83" height="8.30" fill="#3aaa48"/>
<rect x="132.62" y="233.42" width="1.83" height="8.30" fill="#3aaa48"/>
<rect x="143.63" y="233.42" width="3.67" height="8.30" fill="#3aaa48"/>
<text x="43.80" y="240.42" font-size="6.5" text-anchor="end" fill="#2a2a2a" stroke="#2a2a2a" stroke-width="0.18">Ibrutinib</text>
<rect x="46.40" y="243.56" width="2.18" height="8.30" fill="#b0163c"/>
<rect x="48.23" y="243.56" width="2.18" height="8.30" fill="#f4a99a"/>
<rect x="50.07" y="243.56" width="2.18" height="8.30" fill="#3aaa48"/>
<rect x="51.90" y="243.56" width="9.52" height="8.30" fill="#1d4c96"/>
<rect x="61.08" y="243.56" width="2.18" height="8.30" fill="#1f9db5"/>
<rect x="62.91" y="243.56" width="2.18" height="8.30" fill="#1d4c96"/>
<rect x="64.74" y="243.56" width="2.18" height="8.30" fill="#b0163c"/>
<rect x="66.58" y="243.56" width="2.18" height="8.30" fill="#3aaa48"/>
<rect x="68.41" y="243.56" width="2.18" height="8.30" fill="#b0163c"/>
<rect x="70.25" y="243.56" width="4.02" height="8.30" fill="#1d4c96"/>
<rect x="73.92" y="243.56" width="2.18" height="8.30" fill="#b0163c"/>
<rect x="75.75" y="243.56" width="2.18" height="8.30" fill="#1f9db5"/>
<rect x="77.59" y="243.56" width="4.02" height="8.30" fill="#1d4c96"/>
<rect x="81.26" y="243.56" width="2.18" height="8.30" fill="#1f9db5"/>
<rect x="83.09" y="243.56" width="2.18" height="8.30" fill="#3aaa48"/>
<rect x="84.92" y="243.56" width="2.18" height="8.30" fill="#b0163c"/>
<rect x="86.76" y="243.56" width="4.02" height="8.30" fill="#1d4c96"/>
<rect x="90.43" y="243.56" width="2.18" height="8.30" fill="#b0163c"/>
<rect x="92.26" y="243.56" width="2.18" height="8.30" fill="#1d4c96"/>
<rect x="94.10" y="243.56" width="2.18" height="8.30" fill="#b0163c"/>
<rect x="95.93" y="243.56" width="2.18" height="8.30" fill="#1d4c96"/>
<rect x="97.77" y="243.56" width="4.02" height="8.30" fill="#b0163c"/>
<rect x="101.43" y="243.56" width="2.18" height="8.30" fill="#1d4c96"/>
<rect x="103.27" y="243.56" width="2.18" height="8.30" fill="#1f9db5"/>
<rect x="105.10" y="243.56" width="7.69" height="8.30" fill="#b0163c"/>
<rect x="112.44" y="243.56" width="1.83" height="8.30" fill="#1d4c96"/>
<rect x="116.11" y="243.56" width="1.83" height="8.30" fill="#b0163c"/>
<rect x="119.78" y="243.56" width="4.02" height="8.30" fill="#1d4c96"/>
<rect x="123.45" y="243.56" width="2.18" height="8.30" fill="#b0163c"/>
<rect x="125.28" y="243.56" width="2.18" height="8.30" fill="#1d4c96"/>
<rect x="127.12" y="243.56" width="2.18" height="8.30" fill="#1f9db5"/>
<rect x="128.95" y="243.56" width="5.85" height="8.30" fill="#b0163c"/>
<rect x="134.46" y="243.56" width="2.18" height="8.30" fill="#1f9db5"/>
<rect x="136.29" y="243.56" width="5.85" height="8.30" fill="#1d4c96"/>
<rect x="141.79" y="243.56" width="2.18" height="8.30" fill="#3aaa48"/>
<rect x="143.63" y="243.56" width="2.18" height="8.30" fill="#1f9db5"/>
<rect x="145.46" y="243.56" width="2.18" height="8.30" fill="#3aaa48"/>
<rect x="147.30" y="243.56" width="1.83" height="8.30" fill="#b0163c"/>
<text x="43.80" y="250.56" font-size="6.5" text-anchor="end" fill="#2a2a2a" stroke="#2a2a2a" stroke-width="0.18">Response</text>
<rect x="46.40" y="256.40" width="106.40" height="9.20" fill="#f4f4f4"/>
<rect x="46.54" y="256.40" width="1.55" height="9.20" fill="#161616"/>
<rect x="48.37" y="256.40" width="1.55" height="9.20" fill="#1f9db5"/>
<rect x="50.21" y="256.40" width="1.55" height="9.20" fill="#1f9db5"/>
<rect x="52.04" y="256.40" width="1.55" height="9.20" fill="#161616"/>
<rect x="53.88" y="256.40" width="1.55" height="9.20" fill="#a03a5e"/>
<rect x="55.71" y="256.40" width="1.55" height="9.20" fill="#161616"/>
<rect x="57.55" y="256.40" width="1.55" height="9.20" fill="#161616"/>
<rect x="59.38" y="256.40" width="1.55" height="9.20" fill="#a03a5e"/>
<rect x="61.22" y="256.40" width="1.55" height="9.20" fill="#a03a5e"/>
<rect x="63.05" y="256.40" width="1.55" height="9.20" fill="#a03a5e"/>
<rect x="64.88" y="256.40" width="1.55" height="9.20" fill="#1f9db5"/>
<rect x="66.72" y="256.40" width="1.55" height="9.20" fill="#1f9db5"/>
<rect x="68.55" y="256.40" width="1.55" height="9.20" fill="#b0163c"/>
<rect x="70.39" y="256.40" width="1.55" height="9.20" fill="#1f9db5"/>
<rect x="72.22" y="256.40" width="1.55" height="9.20" fill="#1f9db5"/>
<rect x="74.06" y="256.40" width="1.55" height="9.20" fill="#1f9db5"/>
<rect x="75.89" y="256.40" width="1.55" height="9.20" fill="#1f9db5"/>
<rect x="77.73" y="256.40" width="1.55" height="9.20" fill="#161616"/>
<rect x="79.56" y="256.40" width="1.55" height="9.20" fill="#7d95c8"/>
<rect x="81.40" y="256.40" width="1.55" height="9.20" fill="#a03a5e"/>
<rect x="83.23" y="256.40" width="1.55" height="9.20" fill="#a03a5e"/>
<rect x="85.06" y="256.40" width="1.55" height="9.20" fill="#1f9db5"/>
<rect x="86.90" y="256.40" width="1.55" height="9.20" fill="#1f9db5"/>
<rect x="88.73" y="256.40" width="1.55" height="9.20" fill="#1f9db5"/>
<rect x="90.57" y="256.40" width="1.55" height="9.20" fill="#161616"/>
<rect x="92.40" y="256.40" width="1.55" height="9.20" fill="#161616"/>
<text x="43.80" y="264.00" font-size="6.6" text-anchor="end" font-style="italic" fill="#2a2a2a" stroke="#2a2a2a" stroke-width="0.18">ATM</text>
<text x="155.20" y="263.80" font-size="6.9" fill="#2a2a2a" stroke="#2a2a2a" stroke-width="0.18">45%</text>
<rect x="46.40" y="269.38" width="106.40" height="9.20" fill="#f4f4f4"/>
<rect x="48.37" y="269.38" width="1.55" height="9.20" fill="#b0163c"/>
<rect x="94.24" y="269.38" width="1.55" height="9.20" fill="#1f9db5"/>
<rect x="96.07" y="269.38" width="1.55" height="9.20" fill="#1f9db5"/>
<rect x="97.91" y="269.38" width="1.55" height="9.20" fill="#1f9db5"/>
<rect x="99.74" y="269.38" width="1.55" height="9.20" fill="#1d4c96"/>
<rect x="101.57" y="269.38" width="1.55" height="9.20" fill="#1f9db5"/>
<rect x="103.41" y="269.38" width="1.55" height="9.20" fill="#1f9db5"/>
<rect x="105.24" y="269.38" width="1.55" height="9.20" fill="#1f9db5"/>
<rect x="107.08" y="269.38" width="1.55" height="9.20" fill="#1f9db5"/>
<rect x="108.91" y="269.38" width="1.55" height="9.20" fill="#8e63b3"/>
<rect x="110.75" y="269.38" width="1.55" height="9.20" fill="#8e63b3"/>
<rect x="112.58" y="269.38" width="1.55" height="9.20" fill="#1f9db5"/>
<rect x="114.42" y="269.38" width="1.55" height="9.20" fill="#1f9db5"/>
<rect x="116.25" y="269.38" width="1.55" height="9.20" fill="#1d4c96"/>
<rect x="118.08" y="269.38" width="1.55" height="9.20" fill="#1f9db5"/>
<rect x="119.92" y="269.38" width="1.55" height="9.20" fill="#b0163c"/>
<rect x="121.75" y="269.38" width="1.55" height="9.20" fill="#161616"/>
<rect x="123.59" y="269.38" width="1.55" height="9.20" fill="#8e63b3"/>
<rect x="125.42" y="269.38" width="1.55" height="9.20" fill="#1f9db5"/>
<rect x="127.26" y="269.38" width="1.55" height="9.20" fill="#1f9db5"/>
<rect x="129.09" y="269.38" width="1.55" height="9.20" fill="#1f9db5"/>
<text x="43.80" y="276.98" font-size="6.6" text-anchor="end" font-style="italic" fill="#2a2a2a" stroke="#2a2a2a" stroke-width="0.18">TP53</text>
<text x="155.20" y="276.78" font-size="6.9" fill="#2a2a2a" stroke="#2a2a2a" stroke-width="0.18">38%</text>
<rect x="46.40" y="282.36" width="106.40" height="9.20" fill="#f4f4f4"/>
<rect x="50.21" y="282.36" width="1.55" height="9.20" fill="#1f9db5"/>
<rect x="52.04" y="282.36" width="1.55" height="9.20" fill="#b0163c"/>
<rect x="53.88" y="282.36" width="1.55" height="9.20" fill="#161616"/>
<rect x="94.24" y="282.36" width="1.55" height="9.20" fill="#161616"/>
<rect x="97.91" y="282.36" width="1.55" height="9.20" fill="#161616"/>
<rect x="99.74" y="282.36" width="1.55" height="9.20" fill="#161616"/>
<rect x="130.93" y="282.36" width="1.55" height="9.20" fill="#f4a99a"/>
<rect x="132.76" y="282.36" width="1.55" height="9.20" fill="#161616"/>
<rect x="134.60" y="282.36" width="1.55" height="9.20" fill="#1f9db5"/>
<text x="43.80" y="289.96" font-size="6.6" text-anchor="end" font-style="italic" fill="#2a2a2a" stroke="#2a2a2a" stroke-width="0.18">KMT2D</text>
<text x="155.20" y="289.76" font-size="6.9" fill="#2a2a2a" stroke="#2a2a2a" stroke-width="0.18">17%</text>
<rect x="46.40" y="295.34" width="106.40" height="9.20" fill="#f4f4f4"/>
<rect x="55.71" y="295.34" width="1.55" height="9.20" fill="#1f9db5"/>
<rect x="57.55" y="295.34" width="1.55" height="9.20" fill="#1f9db5"/>
<rect x="59.38" y="295.34" width="1.55" height="9.20" fill="#1f9db5"/>
<rect x="61.22" y="295.34" width="1.55" height="9.20" fill="#1f9db5"/>
<rect x="63.05" y="295.34" width="1.55" height="9.20" fill="#1f9db5"/>
<rect x="94.24" y="295.34" width="1.55" height="9.20" fill="#1f9db5"/>
<rect x="96.07" y="295.34" width="1.55" height="9.20" fill="#1f9db5"/>
<rect x="101.57" y="295.34" width="1.55" height="9.20" fill="#1f9db5"/>
<rect x="103.41" y="295.34" width="1.55" height="9.20" fill="#1f9db5"/>
<rect x="136.43" y="295.34" width="1.55" height="9.20" fill="#1f9db5"/>
<text x="43.80" y="302.94" font-size="6.6" text-anchor="end" font-style="italic" fill="#2a2a2a" stroke="#2a2a2a" stroke-width="0.18">SMARCA4</text>
<text x="155.20" y="302.74" font-size="6.9" fill="#2a2a2a" stroke="#2a2a2a" stroke-width="0.18">17%</text>
<rect x="46.40" y="308.32" width="106.40" height="9.20" fill="#f4f4f4"/>
<rect x="50.21" y="308.32" width="1.55" height="9.20" fill="#1f9db5"/>
<rect x="52.04" y="308.32" width="1.55" height="9.20" fill="#1f9db5"/>
<rect x="64.88" y="308.32" width="1.55" height="9.20" fill="#1f9db5"/>
<rect x="66.72" y="308.32" width="1.55" height="9.20" fill="#1f9db5"/>
<rect x="68.55" y="308.32" width="1.55" height="9.20" fill="#1f9db5"/>
<rect x="105.24" y="308.32" width="1.55" height="9.20" fill="#1f9db5"/>
<rect x="107.08" y="308.32" width="1.55" height="9.20" fill="#1f9db5"/>
<rect x="130.93" y="308.32" width="1.55" height="9.20" fill="#1f9db5"/>
<rect x="132.76" y="308.32" width="1.55" height="9.20" fill="#1f9db5"/>
<text x="43.80" y="315.92" font-size="6.6" text-anchor="end" font-style="italic" fill="#2a2a2a" stroke="#2a2a2a" stroke-width="0.18">NSD2</text>
<text x="155.20" y="315.72" font-size="6.9" fill="#2a2a2a" stroke="#2a2a2a" stroke-width="0.18">16%</text>
<rect x="46.40" y="321.30" width="106.40" height="9.20" fill="#f4f4f4"/>
<rect x="64.88" y="321.30" width="1.55" height="9.20" fill="#161616"/>
<rect x="66.72" y="321.30" width="1.55" height="9.20" fill="#161616"/>
<rect x="70.39" y="321.30" width="1.55" height="9.20" fill="#161616"/>
<rect x="72.22" y="321.30" width="1.55" height="9.20" fill="#f4a99a"/>
<rect x="94.24" y="321.30" width="1.55" height="9.20" fill="#b0163c"/>
<rect x="105.24" y="321.30" width="1.55" height="9.20" fill="#161616"/>
<rect x="138.26" y="321.30" width="1.55" height="9.20" fill="#161616"/>
<text x="43.80" y="328.90" font-size="6.6" text-anchor="end" font-style="italic" fill="#2a2a2a" stroke="#2a2a2a" stroke-width="0.18">NOTCH1</text>
<text x="155.20" y="328.70" font-size="6.9" fill="#2a2a2a" stroke="#2a2a2a" stroke-width="0.18">12%</text>
<rect x="46.40" y="334.28" width="106.40" height="9.20" fill="#f4f4f4"/>
<rect x="55.71" y="334.28" width="1.55" height="9.20" fill="#1f9db5"/>
<rect x="70.39" y="334.28" width="1.55" height="9.20" fill="#1f9db5"/>
<rect x="97.91" y="334.28" width="1.55" height="9.20" fill="#1f9db5"/>
<rect x="107.08" y="334.28" width="1.55" height="9.20" fill="#1f9db5"/>
<rect x="108.91" y="334.28" width="1.55" height="9.20" fill="#1f9db5"/>
<rect x="110.75" y="334.28" width="1.55" height="9.20" fill="#1f9db5"/>
<rect x="112.58" y="334.28" width="1.55" height="9.20" fill="#1f9db5"/>
<text x="43.80" y="341.88" font-size="6.6" text-anchor="end" font-style="italic" fill="#2a2a2a" stroke="#2a2a2a" stroke-width="0.18">CCND1</text>
<text x="155.20" y="341.68" font-size="6.9" fill="#2a2a2a" stroke="#2a2a2a" stroke-width="0.18">12%</text>
<rect x="46.40" y="347.26" width="106.40" height="9.20" fill="#f4f4f4"/>
<rect x="68.55" y="347.26" width="1.55" height="9.20" fill="#161616"/>
<rect x="74.06" y="347.26" width="1.55" height="9.20" fill="#b0163c"/>
<rect x="77.73" y="347.26" width="1.55" height="9.20" fill="#b0163c"/>
<rect x="134.60" y="347.26" width="1.55" height="9.20" fill="#b0163c"/>
<rect x="140.10" y="347.26" width="1.55" height="9.20" fill="#161616"/>
<text x="43.80" y="354.86" font-size="6.6" text-anchor="end" font-style="italic" fill="#2a2a2a" stroke="#2a2a2a" stroke-width="0.18">BCOR</text>
<text x="155.20" y="354.66" font-size="6.9" fill="#2a2a2a" stroke="#2a2a2a" stroke-width="0.18">10%</text>
<rect x="46.40" y="360.24" width="106.40" height="9.20" fill="#f4f4f4"/>
<rect x="46.54" y="360.24" width="1.55" height="9.20" fill="#1f9db5"/>
<rect x="94.24" y="360.24" width="1.55" height="9.20" fill="#1f9db5"/>
<rect x="101.57" y="360.24" width="1.55" height="9.20" fill="#1f9db5"/>
<rect x="114.42" y="360.24" width="1.55" height="9.20" fill="#1f9db5"/>
<rect x="141.93" y="360.24" width="1.55" height="9.20" fill="#1f9db5"/>
<rect x="143.77" y="360.24" width="1.55" height="9.20" fill="#1f9db5"/>
<text x="43.80" y="367.84" font-size="6.6" text-anchor="end" font-style="italic" fill="#2a2a2a" stroke="#2a2a2a" stroke-width="0.18">PRKCB</text>
<text x="155.20" y="367.64" font-size="6.9" fill="#2a2a2a" stroke="#2a2a2a" stroke-width="0.18">10%</text>
<rect x="46.40" y="373.22" width="106.40" height="9.20" fill="#f4f4f4"/>
<rect x="57.55" y="373.22" width="1.55" height="9.20" fill="#7a3466"/>
<rect x="59.38" y="373.22" width="1.55" height="9.20" fill="#1f9db5"/>
<rect x="74.06" y="373.22" width="1.55" height="9.20" fill="#b0163c"/>
<rect x="130.93" y="373.22" width="1.55" height="9.20" fill="#1f9db5"/>
<rect x="134.60" y="373.22" width="1.55" height="9.20" fill="#1f9db5"/>
<text x="43.80" y="380.82" font-size="6.6" text-anchor="end" font-style="italic" fill="#2a2a2a" stroke="#2a2a2a" stroke-width="0.18">DAZAP1</text>
<text x="155.20" y="380.62" font-size="6.9" fill="#2a2a2a" stroke="#2a2a2a" stroke-width="0.18">9%</text>
<rect x="46.40" y="386.20" width="106.40" height="9.20" fill="#f4f4f4"/>
<rect x="53.88" y="386.20" width="1.55" height="9.20" fill="#b0163c"/>
<rect x="55.71" y="386.20" width="1.55" height="9.20" fill="#b0163c"/>
<rect x="64.88" y="386.20" width="1.55" height="9.20" fill="#f4a99a"/>
<rect x="103.41" y="386.20" width="1.55" height="9.20" fill="#8e63b3"/>
<rect x="108.91" y="386.20" width="1.55" height="9.20" fill="#1f9db5"/>
<text x="43.80" y="393.80" font-size="6.6" text-anchor="end" font-style="italic" fill="#2a2a2a" stroke="#2a2a2a" stroke-width="0.18">TRAF2</text>
<text x="155.20" y="393.60" font-size="6.9" fill="#2a2a2a" stroke="#2a2a2a" stroke-width="0.18">9%</text>
<rect x="46.40" y="399.18" width="106.40" height="9.20" fill="#f4f4f4"/>
<rect x="57.55" y="399.18" width="1.55" height="9.20" fill="#161616"/>
<rect x="79.56" y="399.18" width="1.55" height="9.20" fill="#b0163c"/>
<rect x="99.74" y="399.18" width="1.55" height="9.20" fill="#161616"/>
<rect x="116.25" y="399.18" width="1.55" height="9.20" fill="#161616"/>
<rect x="136.43" y="399.18" width="1.55" height="9.20" fill="#b0163c"/>
<text x="43.80" y="406.78" font-size="6.6" text-anchor="end" font-style="italic" fill="#2a2a2a" stroke="#2a2a2a" stroke-width="0.18">SP140</text>
<text x="155.20" y="406.58" font-size="6.9" fill="#2a2a2a" stroke="#2a2a2a" stroke-width="0.18">9%</text>
<rect x="46.40" y="412.16" width="106.40" height="9.20" fill="#f4f4f4"/>
<rect x="59.38" y="412.16" width="1.55" height="9.20" fill="#1f9db5"/>
<rect x="75.89" y="412.16" width="1.55" height="9.20" fill="#1f9db5"/>
<rect x="94.24" y="412.16" width="1.55" height="9.20" fill="#1f9db5"/>
<rect x="110.75" y="412.16" width="1.55" height="9.20" fill="#1f9db5"/>
<rect x="130.93" y="412.16" width="1.55" height="9.20" fill="#1f9db5"/>
<text x="43.80" y="419.76" font-size="6.6" text-anchor="end" font-style="italic" fill="#2a2a2a" stroke="#2a2a2a" stroke-width="0.18">CARD11</text>
<text x="155.20" y="419.56" font-size="6.9" fill="#2a2a2a" stroke="#2a2a2a" stroke-width="0.18">9%</text>
<rect x="46.40" y="425.14" width="106.40" height="9.20" fill="#f4f4f4"/>
<rect x="61.22" y="425.14" width="1.55" height="9.20" fill="#161616"/>
<rect x="72.22" y="425.14" width="1.55" height="9.20" fill="#8e63b3"/>
<text x="43.80" y="432.74" font-size="6.6" text-anchor="end" font-style="italic" fill="#2a2a2a" stroke="#2a2a2a" stroke-width="0.18">UBR5</text>
<text x="155.20" y="432.54" font-size="6.9" fill="#2a2a2a" stroke="#2a2a2a" stroke-width="0.18">9%</text>
<defs><linearGradient id="gUbr" x1="0" x2="1" y1="0" y2="0"><stop offset="0" stop-color="#e6e6e6"/><stop offset="0.6" stop-color="#9a9a9a"/><stop offset="1" stop-color="#555"/></linearGradient></defs>
<rect x="80.3" y="425.53999999999996" width="4.4" height="8.399999999999999" rx="1.6" fill="url(#gUbr)"/>
<rect x="46.40" y="439.00" width="106.40" height="9.00" fill="#f3f3f3"/>
<rect x="46.50" y="439.00" width="5.30" height="9.00" fill="#161616"/>
<rect x="64.84" y="439.00" width="1.63" height="9.00" fill="#161616"/>
<rect x="68.51" y="439.00" width="1.63" height="9.00" fill="#161616"/>
<rect x="74.02" y="439.00" width="3.47" height="9.00" fill="#161616"/>
<rect x="81.36" y="439.00" width="5.30" height="9.00" fill="#161616"/>
<rect x="90.53" y="439.00" width="10.81" height="9.00" fill="#161616"/>
<rect x="105.20" y="439.00" width="8.97" height="9.00" fill="#161616"/>
<rect x="116.21" y="439.00" width="5.30" height="9.00" fill="#161616"/>
<rect x="123.55" y="439.00" width="10.81" height="9.00" fill="#161616"/>
<rect x="143.73" y="439.00" width="1.63" height="9.00" fill="#161616"/>
<text x="43.80" y="445.80" font-size="6.3" text-anchor="end" fill="#2a2a2a" stroke="#2a2a2a" stroke-width="0.17">Progression</text>
<rect x="46.40" y="450.50" width="106.40" height="9.00" fill="#f3f3f3"/>
<rect x="46.50" y="450.50" width="3.47" height="9.00" fill="#161616"/>
<rect x="64.84" y="450.50" width="1.63" height="9.00" fill="#161616"/>
<rect x="68.51" y="450.50" width="1.63" height="9.00" fill="#161616"/>
<rect x="75.85" y="450.50" width="1.63" height="9.00" fill="#161616"/>
<rect x="81.36" y="450.50" width="5.30" height="9.00" fill="#161616"/>
<rect x="94.20" y="450.50" width="1.63" height="9.00" fill="#161616"/>
<rect x="97.87" y="450.50" width="3.47" height="9.00" fill="#161616"/>
<rect x="105.20" y="450.50" width="8.97" height="9.00" fill="#161616"/>
<rect x="116.21" y="450.50" width="5.30" height="9.00" fill="#161616"/>
<rect x="123.55" y="450.50" width="3.47" height="9.00" fill="#161616"/>
<rect x="129.05" y="450.50" width="5.30" height="9.00" fill="#161616"/>
<rect x="143.73" y="450.50" width="1.63" height="9.00" fill="#161616"/>
<text x="43.80" y="457.30" font-size="6.3" text-anchor="end" fill="#2a2a2a" stroke="#2a2a2a" stroke-width="0.17">Death</text>
<text x="184.60" y="134.10" font-size="10.8" font-weight="bold" fill="#111" stroke="#111" stroke-width="0.45">C</text>
<text x="194.00" y="146.90" font-size="6.8" font-weight="bold" fill="#111" stroke="#111" stroke-width="0.18">I</text>
<text x="216.00" y="146.90" font-size="6.4" fill="#2a2a2a" stroke="#2a2a2a" stroke-width="0.18">Pyclone Cluster</text>
<circle cx="266.60" cy="144.80" r="1.20" fill="#2e9fdc" stroke="none" stroke-width="0.5"/>
<text x="271.70" y="146.90" font-size="6.5" fill="#2a2a2a" stroke="#2a2a2a" stroke-width="0.18">Cluster#1</text>
<circle cx="308.00" cy="144.80" r="1.20" fill="#142a58" stroke="none" stroke-width="0.5"/>
<text x="312.00" y="146.90" font-size="6.5" fill="#2a2a2a" stroke="#2a2a2a" stroke-width="0.18">Cluster#2</text>
<line x1="222.20" y1="153.00" x2="222.20" y2="241.60" stroke="#111" stroke-width="0.85"/>
<line x1="222.20" y1="241.60" x2="334.00" y2="241.60" stroke="#111" stroke-width="0.85"/>
<line x1="218.80" y1="171.30" x2="222.20" y2="171.30" stroke="#111" stroke-width="0.7"/>
<text x="215.80" y="173.60" font-size="6.4" text-anchor="end" fill="#2a2a2a" stroke="#2a2a2a" stroke-width="0.18">10.0</text>
<line x1="218.80" y1="194.67" x2="222.20" y2="194.67" stroke="#111" stroke-width="0.7"/>
<text x="215.80" y="196.97" font-size="6.4" text-anchor="end" fill="#2a2a2a" stroke="#2a2a2a" stroke-width="0.18">3.0</text>
<line x1="218.80" y1="216.00" x2="222.20" y2="216.00" stroke="#111" stroke-width="0.7"/>
<text x="215.80" y="218.30" font-size="6.4" text-anchor="end" fill="#2a2a2a" stroke="#2a2a2a" stroke-width="0.18">1.0</text>
<line x1="218.80" y1="239.37" x2="222.20" y2="239.37" stroke="#111" stroke-width="0.7"/>
<text x="215.80" y="241.67" font-size="6.4" text-anchor="end" fill="#2a2a2a" stroke="#2a2a2a" stroke-width="0.18">0.3</text>
<line x1="220.60" y1="239.37" x2="222.20" y2="239.37" stroke="#555" stroke-width="0.45"/>
<line x1="220.60" y1="233.79" x2="222.20" y2="233.79" stroke="#555" stroke-width="0.45"/>
<line x1="220.60" y1="229.46" x2="222.20" y2="229.46" stroke="#555" stroke-width="0.45"/>
<line x1="220.60" y1="225.92" x2="222.20" y2="225.92" stroke="#555" stroke-width="0.45"/>
<line x1="220.60" y1="222.92" x2="222.20" y2="222.92" stroke="#555" stroke-width="0.45"/>
<line x1="220.60" y1="220.33" x2="222.20" y2="220.33" stroke="#555" stroke-width="0.45"/>
<line x1="220.60" y1="218.05" x2="222.20" y2="218.05" stroke="#555" stroke-width="0.45"/>
<line x1="220.60" y1="202.54" x2="222.20" y2="202.54" stroke="#555" stroke-width="0.45"/>
<line x1="220.60" y1="194.67" x2="222.20" y2="194.67" stroke="#555" stroke-width="0.45"/>
<line x1="220.60" y1="189.09" x2="222.20" y2="189.09" stroke="#555" stroke-width="0.45"/>
<line x1="220.60" y1="184.76" x2="222.20" y2="184.76" stroke="#555" stroke-width="0.45"/>
<line x1="220.60" y1="181.22" x2="222.20" y2="181.22" stroke="#555" stroke-width="0.45"/>
<line x1="220.60" y1="178.22" x2="222.20" y2="178.22" stroke="#555" stroke-width="0.45"/>
<line x1="220.60" y1="175.63" x2="222.20" y2="175.63" stroke="#555" stroke-width="0.45"/>
<line x1="220.60" y1="173.35" x2="222.20" y2="173.35" stroke="#555" stroke-width="0.45"/>
<line x1="220.60" y1="157.84" x2="222.20" y2="157.84" stroke="#555" stroke-width="0.45"/>
<line x1="243.40" y1="241.60" x2="243.40" y2="244.20" stroke="#111" stroke-width="0.7"/>
<line x1="278.40" y1="241.60" x2="278.40" y2="244.20" stroke="#111" stroke-width="0.7"/>
<line x1="313.40" y1="241.60" x2="313.40" y2="244.20" stroke="#111" stroke-width="0.7"/>
<text x="0" y="0" font-size="7.4" text-anchor="middle" fill="#2a2a2a" stroke="#2a2a2a" stroke-width="0.3" textLength="68.6" lengthAdjust="spacingAndGlyphs" transform="translate(195.2,197.4) rotate(-90)">Variant allele fraction (%)</text>
<rect x="235.20" y="172.80" width="16.80" height="28.00" fill="#d6d6d6"/>
<rect x="270.50" y="158.00" width="16.90" height="27.00" fill="#d6d6d6"/>
<polyline points="243.40,184.80 278.40,163.30 313.40,176.40" fill="none" stroke="#c0c0c0" stroke-width="0.5"/>
<polyline points="243.40,187.00 278.40,170.60 313.40,187.20" fill="none" stroke="#c0c0c0" stroke-width="0.5"/>
<polyline points="243.40,189.93 278.40,173.00 313.40,189.50" fill="none" stroke="#c0c0c0" stroke-width="0.5"/>
<polyline points="243.40,190.12 278.40,177.44 313.40,195.00" fill="none" stroke="#6e6e6e" stroke-width="0.5"/>
<polyline points="243.40,190.16 278.40,177.06 313.40,203.30" fill="none" stroke="#8a8a8a" stroke-width="0.5"/>
<polyline points="243.40,190.45 278.40,176.81 313.40,202.02" fill="none" stroke="#6e6e6e" stroke-width="0.5"/>
<polyline points="243.40,190.88 278.40,177.88 313.40,200.45" fill="none" stroke="#8a8a8a" stroke-width="0.5"/>
<polyline points="243.40,190.98 278.40,179.28 313.40,202.38" fill="none" stroke="#6e6e6e" stroke-width="0.5"/>
<polyline points="243.40,191.31 278.40,178.72 313.40,201.60" fill="none" stroke="#8a8a8a" stroke-width="0.5"/>
<polyline points="243.40,191.41 278.40,178.00 313.40,201.24" fill="none" stroke="#6e6e6e" stroke-width="0.5"/>
<polyline points="243.40,192.57 278.40,178.08 313.40,204.31" fill="none" stroke="#8a8a8a" stroke-width="0.5"/>
<polyline points="243.40,193.63 278.40,178.14 313.40,203.38" fill="none" stroke="#6e6e6e" stroke-width="0.5"/>
<polyline points="243.40,194.18 278.40,179.53 313.40,202.22" fill="none" stroke="#8a8a8a" stroke-width="0.5"/>
<polyline points="243.40,194.85 278.40,180.25 313.40,204.12" fill="none" stroke="#6e6e6e" stroke-width="0.5"/>
<polyline points="243.40,195.35 278.40,181.39 313.40,203.54" fill="none" stroke="#8a8a8a" stroke-width="0.5"/>
<polyline points="243.40,195.79 278.40,180.74 313.40,204.65" fill="none" stroke="#6e6e6e" stroke-width="0.5"/>
<polyline points="243.40,195.94 278.40,180.82 313.40,204.72" fill="none" stroke="#8a8a8a" stroke-width="0.5"/>
<polyline points="243.40,197.12 278.40,180.86 313.40,205.33" fill="none" stroke="#6e6e6e" stroke-width="0.5"/>
<polyline points="243.40,197.57 278.40,180.48 313.40,204.36" fill="none" stroke="#8a8a8a" stroke-width="0.5"/>
<polyline points="243.40,198.23 278.40,181.80 313.40,204.35" fill="none" stroke="#6e6e6e" stroke-width="0.5"/>
<polyline points="243.40,199.04 278.40,181.99 313.40,205.41" fill="none" stroke="#8a8a8a" stroke-width="0.5"/>
<polyline points="243.40,199.41 278.40,182.29 313.40,206.04" fill="none" stroke="#6e6e6e" stroke-width="0.5"/>
<polyline points="243.40,202.23 278.40,183.75 313.40,206.24" fill="none" stroke="#8a8a8a" stroke-width="0.5"/>
<polyline points="243.40,202.74 278.40,183.16 313.40,206.63" fill="none" stroke="#6e6e6e" stroke-width="0.5"/>
<polyline points="243.40,204.16 278.40,182.94 313.40,210.00" fill="none" stroke="#c0c0c0" stroke-width="0.5"/>
<polyline points="243.40,206.80 278.40,204.20 313.40,212.40" fill="none" stroke="#c0c0c0" stroke-width="0.5"/>
<polyline points="243.40,237.80 278.40,229.30 313.40,235.30" fill="none" stroke="#b8c4d8" stroke-width="0.5"/>
<circle cx="244.68" cy="184.80" r="1.40" fill="#2e9fdc" stroke="none" stroke-width="0.5"/>
<circle cx="277.42" cy="163.30" r="1.40" fill="#2e9fdc" stroke="none" stroke-width="0.5"/>
<circle cx="312.49" cy="176.40" r="1.40" fill="#2e9fdc" stroke="none" stroke-width="0.5"/>
<circle cx="242.65" cy="187.00" r="1.40" fill="#2e9fdc" stroke="none" stroke-width="0.5"/>
<circle cx="277.65" cy="170.60" r="1.40" fill="#2e9fdc" stroke="none" stroke-width="0.5"/>
<circle cx="313.36" cy="187.20" r="1.40" fill="#2e9fdc" stroke="none" stroke-width="0.5"/>
<circle cx="243.65" cy="189.93" r="1.40" fill="#2e9fdc" stroke="none" stroke-width="0.5"/>
<circle cx="277.74" cy="173.00" r="1.40" fill="#2e9fdc" stroke="none" stroke-width="0.5"/>
<circle cx="312.01" cy="189.50" r="1.40" fill="#2e9fdc" stroke="none" stroke-width="0.5"/>
<circle cx="243.17" cy="190.12" r="1.40" fill="#2e9fdc" stroke="none" stroke-width="0.5"/>
<circle cx="278.03" cy="177.44" r="1.40" fill="#2e9fdc" stroke="none" stroke-width="0.5"/>
<circle cx="313.59" cy="195.00" r="1.40" fill="#2e9fdc" stroke="none" stroke-width="0.5"/>
<circle cx="244.67" cy="190.16" r="1.40" fill="#2e9fdc" stroke="none" stroke-width="0.5"/>
<circle cx="278.93" cy="177.06" r="1.40" fill="#2e9fdc" stroke="none" stroke-width="0.5"/>
<circle cx="313.44" cy="203.30" r="1.40" fill="#2e9fdc" stroke="none" stroke-width="0.5"/>
<circle cx="243.73" cy="190.45" r="1.40" fill="#2e9fdc" stroke="none" stroke-width="0.5"/>
<circle cx="278.89" cy="176.81" r="1.40" fill="#2e9fdc" stroke="none" stroke-width="0.5"/>
<circle cx="312.15" cy="202.02" r="1.40" fill="#2e9fdc" stroke="none" stroke-width="0.5"/>
<circle cx="244.52" cy="190.88" r="1.40" fill="#2e9fdc" stroke="none" stroke-width="0.5"/>
<circle cx="279.18" cy="177.88" r="1.40" fill="#2e9fdc" stroke="none" stroke-width="0.5"/>
<circle cx="314.45" cy="200.45" r="1.40" fill="#2e9fdc" stroke="none" stroke-width="0.5"/>
<circle cx="244.23" cy="190.98" r="1.40" fill="#2e9fdc" stroke="none" stroke-width="0.5"/>
<circle cx="278.10" cy="179.28" r="1.40" fill="#2e9fdc" stroke="none" stroke-width="0.5"/>
<circle cx="313.12" cy="202.38" r="1.40" fill="#2e9fdc" stroke="none" stroke-width="0.5"/>
<circle cx="242.29" cy="191.31" r="1.40" fill="#2e9fdc" stroke="none" stroke-width="0.5"/>
<circle cx="278.78" cy="178.72" r="1.40" fill="#2e9fdc" stroke="none" stroke-width="0.5"/>
<circle cx="312.17" cy="201.60" r="1.40" fill="#2e9fdc" stroke="none" stroke-width="0.5"/>
<circle cx="242.19" cy="191.41" r="1.40" fill="#2e9fdc" stroke="none" stroke-width="0.5"/>
<circle cx="277.58" cy="178.00" r="1.40" fill="#2e9fdc" stroke="none" stroke-width="0.5"/>
<circle cx="312.45" cy="201.24" r="1.40" fill="#2e9fdc" stroke="none" stroke-width="0.5"/>
<circle cx="242.95" cy="192.57" r="1.40" fill="#2e9fdc" stroke="none" stroke-width="0.5"/>
<circle cx="277.15" cy="178.08" r="1.40" fill="#2e9fdc" stroke="none" stroke-width="0.5"/>
<circle cx="312.00" cy="204.31" r="1.40" fill="#2e9fdc" stroke="none" stroke-width="0.5"/>
<circle cx="242.42" cy="193.63" r="1.40" fill="#2e9fdc" stroke="none" stroke-width="0.5"/>
<circle cx="277.28" cy="178.14" r="1.40" fill="#2e9fdc" stroke="none" stroke-width="0.5"/>
<circle cx="313.02" cy="203.38" r="1.40" fill="#2e9fdc" stroke="none" stroke-width="0.5"/>
<circle cx="242.07" cy="194.18" r="1.40" fill="#2e9fdc" stroke="none" stroke-width="0.5"/>
<circle cx="279.45" cy="179.53" r="1.40" fill="#2e9fdc" stroke="none" stroke-width="0.5"/>
<circle cx="313.72" cy="202.22" r="1.40" fill="#2e9fdc" stroke="none" stroke-width="0.5"/>
<circle cx="242.42" cy="194.85" r="1.40" fill="#2e9fdc" stroke="none" stroke-width="0.5"/>
<circle cx="277.71" cy="180.25" r="1.40" fill="#2e9fdc" stroke="none" stroke-width="0.5"/>
<circle cx="312.97" cy="204.12" r="1.40" fill="#2e9fdc" stroke="none" stroke-width="0.5"/>
<circle cx="243.02" cy="195.35" r="1.40" fill="#2e9fdc" stroke="none" stroke-width="0.5"/>
<circle cx="277.34" cy="181.39" r="1.40" fill="#2e9fdc" stroke="none" stroke-width="0.5"/>
<circle cx="314.38" cy="203.54" r="1.40" fill="#2e9fdc" stroke="none" stroke-width="0.5"/>
<circle cx="244.78" cy="195.79" r="1.40" fill="#2e9fdc" stroke="none" stroke-width="0.5"/>
<circle cx="278.30" cy="180.74" r="1.40" fill="#2e9fdc" stroke="none" stroke-width="0.5"/>
<circle cx="313.35" cy="204.65" r="1.40" fill="#2e9fdc" stroke="none" stroke-width="0.5"/>
<circle cx="242.24" cy="195.94" r="1.40" fill="#2e9fdc" stroke="none" stroke-width="0.5"/>
<circle cx="277.29" cy="180.82" r="1.40" fill="#2e9fdc" stroke="none" stroke-width="0.5"/>
<circle cx="312.96" cy="204.72" r="1.40" fill="#2e9fdc" stroke="none" stroke-width="0.5"/>
<circle cx="242.74" cy="197.12" r="1.40" fill="#2e9fdc" stroke="none" stroke-width="0.5"/>
<circle cx="279.32" cy="180.86" r="1.40" fill="#2e9fdc" stroke="none" stroke-width="0.5"/>
<circle cx="312.45" cy="205.33" r="1.40" fill="#2e9fdc" stroke="none" stroke-width="0.5"/>
<circle cx="242.06" cy="197.57" r="1.40" fill="#2e9fdc" stroke="none" stroke-width="0.5"/>
<circle cx="279.66" cy="180.48" r="1.40" fill="#2e9fdc" stroke="none" stroke-width="0.5"/>
<circle cx="313.48" cy="204.36" r="1.40" fill="#2e9fdc" stroke="none" stroke-width="0.5"/>
<circle cx="242.41" cy="198.23" r="1.40" fill="#2e9fdc" stroke="none" stroke-width="0.5"/>
<circle cx="278.52" cy="181.80" r="1.40" fill="#2e9fdc" stroke="none" stroke-width="0.5"/>
<circle cx="312.08" cy="204.35" r="1.40" fill="#2e9fdc" stroke="none" stroke-width="0.5"/>
<circle cx="243.48" cy="199.04" r="1.40" fill="#2e9fdc" stroke="none" stroke-width="0.5"/>
<circle cx="279.74" cy="181.99" r="1.40" fill="#2e9fdc" stroke="none" stroke-width="0.5"/>
<circle cx="314.42" cy="205.41" r="1.40" fill="#2e9fdc" stroke="none" stroke-width="0.5"/>
<circle cx="243.95" cy="199.41" r="1.40" fill="#2e9fdc" stroke="none" stroke-width="0.5"/>
<circle cx="277.73" cy="182.29" r="1.40" fill="#2e9fdc" stroke="none" stroke-width="0.5"/>
<circle cx="313.03" cy="206.04" r="1.40" fill="#2e9fdc" stroke="none" stroke-width="0.5"/>
<circle cx="242.47" cy="202.23" r="1.40" fill="#2e9fdc" stroke="none" stroke-width="0.5"/>
<circle cx="279.16" cy="183.75" r="1.40" fill="#2e9fdc" stroke="none" stroke-width="0.5"/>
<circle cx="313.49" cy="206.24" r="1.40" fill="#2e9fdc" stroke="none" stroke-width="0.5"/>
<circle cx="244.18" cy="202.74" r="1.40" fill="#2e9fdc" stroke="none" stroke-width="0.5"/>
<circle cx="277.92" cy="183.16" r="1.40" fill="#2e9fdc" stroke="none" stroke-width="0.5"/>
<circle cx="312.62" cy="206.63" r="1.40" fill="#2e9fdc" stroke="none" stroke-width="0.5"/>
<circle cx="244.27" cy="204.16" r="1.40" fill="#2e9fdc" stroke="none" stroke-width="0.5"/>
<circle cx="279.76" cy="182.94" r="1.40" fill="#2e9fdc" stroke="none" stroke-width="0.5"/>
<circle cx="314.39" cy="210.00" r="1.40" fill="#2e9fdc" stroke="none" stroke-width="0.5"/>
<circle cx="244.26" cy="206.80" r="1.40" fill="#2e9fdc" stroke="none" stroke-width="0.5"/>
<circle cx="279.29" cy="204.20" r="1.40" fill="#2e9fdc" stroke="none" stroke-width="0.5"/>
<circle cx="314.07" cy="212.40" r="1.40" fill="#2e9fdc" stroke="none" stroke-width="0.5"/>
<circle cx="243.40" cy="237.80" r="1.30" fill="#142a58" stroke="none" stroke-width="0.5"/>
<circle cx="278.40" cy="229.30" r="1.30" fill="#142a58" stroke="none" stroke-width="0.5"/>
<circle cx="313.40" cy="235.30" r="1.30" fill="#142a58" stroke="none" stroke-width="0.5"/>
<text x="231.00" y="183.40" font-size="6.2" font-style="italic" fill="#2a2a2a" stroke="#2a2a2a" stroke-width="0.16">ATM</text>
<text x="265.00" y="162.30" font-size="6.2" font-style="italic" fill="#2a2a2a" stroke="#2a2a2a" stroke-width="0.16">ATM</text>
<text x="313.80" y="174.30" font-size="6.2" font-style="italic" fill="#2a2a2a" stroke="#2a2a2a" stroke-width="0.16">ATM</text>
<text x="194.50" y="255.00" font-size="6.35" fill="#2a2a2a" stroke="#2a2a2a" stroke-width="0.18">Compartment:</text>
<text x="243.40" y="255.00" font-size="6.35" text-anchor="middle" fill="#2a2a2a" stroke="#2a2a2a" stroke-width="0.18">BM</text>
<text x="278.40" y="255.00" font-size="6.35" text-anchor="middle" fill="#2a2a2a" stroke="#2a2a2a" stroke-width="0.18">PB</text>
<text x="313.40" y="255.00" font-size="6.35" text-anchor="middle" fill="#2a2a2a" stroke="#2a2a2a" stroke-width="0.18">cfDNA</text>
<line x1="243.40" y1="258.40" x2="243.40" y2="262.30" stroke="#111" stroke-width="0.7"/>
<line x1="278.40" y1="258.40" x2="278.40" y2="262.30" stroke="#111" stroke-width="0.7"/>
<line x1="313.40" y1="258.40" x2="313.40" y2="262.30" stroke="#111" stroke-width="0.7"/>
<path d="M210.5,283.6 C220,278 229,268 236.5,263.6 Q239,262.3 243.4,262.3 L313.4,262.3 L313.4,304.5 L243.4,304.5 Q239,304.5 236.5,303.2 C229,299 220,289 210.5,283.6 Z" fill="#0f9ab4"/>
<rect x="236.00" y="282.90" width="77.40" height="1.90" fill="#0b4f8c"/>
<line x1="243.40" y1="262.30" x2="243.40" y2="304.50" stroke="#62c8e6" stroke-width="0.7"/>
<line x1="278.40" y1="262.30" x2="278.40" y2="304.50" stroke="#62c8e6" stroke-width="0.7"/>
<text x="192.60" y="331.10" font-size="6.8" font-weight="bold" fill="#111" stroke="#111" stroke-width="0.18">II</text>
<text x="216.70" y="334.40" font-size="6.4" fill="#2a2a2a" stroke="#2a2a2a" stroke-width="0.18">Pyclone Cluster</text>
<circle cx="267.50" cy="326.40" r="1.20" fill="#2e9fdc" stroke="none" stroke-width="0.5"/>
<text x="271.20" y="328.50" font-size="6.5" fill="#2a2a2a" stroke="#2a2a2a" stroke-width="0.18">Cluster#1</text>
<circle cx="308.00" cy="326.40" r="1.20" fill="#142a58" stroke="none" stroke-width="0.5"/>
<text x="311.80" y="328.50" font-size="6.5" fill="#2a2a2a" stroke="#2a2a2a" stroke-width="0.18">Cluster#6</text>
<circle cx="267.50" cy="337.00" r="1.20" fill="#c0282a" stroke="none" stroke-width="0.5"/>
<text x="271.20" y="339.10" font-size="6.5" fill="#2a2a2a" stroke="#2a2a2a" stroke-width="0.18">Cluster#4</text>
<circle cx="308.00" cy="337.00" r="1.20" fill="#222" stroke="none" stroke-width="0.5"/>
<text x="311.80" y="339.10" font-size="6.5" fill="#2a2a2a" stroke="#2a2a2a" stroke-width="0.18">Cluster#5</text>
<line x1="222.20" y1="350.80" x2="222.20" y2="439.20" stroke="#111" stroke-width="0.85"/>
<line x1="222.20" y1="439.20" x2="334.00" y2="439.20" stroke="#111" stroke-width="0.85"/>
<line x1="218.80" y1="376.30" x2="222.20" y2="376.30" stroke="#111" stroke-width="0.7"/>
<text x="215.80" y="378.60" font-size="6.4" text-anchor="end" fill="#2a2a2a" stroke="#2a2a2a" stroke-width="0.18">10.0</text>
<line x1="218.80" y1="402.50" x2="222.20" y2="402.50" stroke="#111" stroke-width="0.7"/>
<text x="215.80" y="404.80" font-size="6.4" text-anchor="end" fill="#2a2a2a" stroke="#2a2a2a" stroke-width="0.18">1.0</text>
<line x1="218.80" y1="428.70" x2="222.20" y2="428.70" stroke="#111" stroke-width="0.7"/>
<text x="215.80" y="431.00" font-size="6.4" text-anchor="end" fill="#2a2a2a" stroke="#2a2a2a" stroke-width="0.18">0.1</text>
<line x1="220.60" y1="439.13" x2="222.20" y2="439.13" stroke="#555" stroke-width="0.45"/>
<line x1="220.60" y1="436.59" x2="222.20" y2="436.59" stroke="#555" stroke-width="0.45"/>
<line x1="220.60" y1="434.51" x2="222.20" y2="434.51" stroke="#555" stroke-width="0.45"/>
<line x1="220.60" y1="432.76" x2="222.20" y2="432.76" stroke="#555" stroke-width="0.45"/>
<line x1="220.60" y1="431.24" x2="222.20" y2="431.24" stroke="#555" stroke-width="0.45"/>
<line x1="220.60" y1="429.90" x2="222.20" y2="429.90" stroke="#555" stroke-width="0.45"/>
<line x1="220.60" y1="420.81" x2="222.20" y2="420.81" stroke="#555" stroke-width="0.45"/>
<line x1="220.60" y1="416.20" x2="222.20" y2="416.20" stroke="#555" stroke-width="0.45"/>
<line x1="220.60" y1="412.93" x2="222.20" y2="412.93" stroke="#555" stroke-width="0.45"/>
<line x1="220.60" y1="410.39" x2="222.20" y2="410.39" stroke="#555" stroke-width="0.45"/>
<line x1="220.60" y1="408.31" x2="222.20" y2="408.31" stroke="#555" stroke-width="0.45"/>
<line x1="220.60" y1="406.56" x2="222.20" y2="406.56" stroke="#555" stroke-width="0.45"/>
<line x1="220.60" y1="405.04" x2="222.20" y2="405.04" stroke="#555" stroke-width="0.45"/>
<line x1="220.60" y1="403.70" x2="222.20" y2="403.70" stroke="#555" stroke-width="0.45"/>
<line x1="220.60" y1="394.61" x2="222.20" y2="394.61" stroke="#555" stroke-width="0.45"/>
<line x1="220.60" y1="390.00" x2="222.20" y2="390.00" stroke="#555" stroke-width="0.45"/>
<line x1="220.60" y1="386.73" x2="222.20" y2="386.73" stroke="#555" stroke-width="0.45"/>
<line x1="220.60" y1="384.19" x2="222.20" y2="384.19" stroke="#555" stroke-width="0.45"/>
<line x1="220.60" y1="382.11" x2="222.20" y2="382.11" stroke="#555" stroke-width="0.45"/>
<line x1="220.60" y1="380.36" x2="222.20" y2="380.36" stroke="#555" stroke-width="0.45"/>
<line x1="220.60" y1="378.84" x2="222.20" y2="378.84" stroke="#555" stroke-width="0.45"/>
<line x1="220.60" y1="377.50" x2="222.20" y2="377.50" stroke="#555" stroke-width="0.45"/>
<line x1="220.60" y1="368.41" x2="222.20" y2="368.41" stroke="#555" stroke-width="0.45"/>
<line x1="220.60" y1="363.80" x2="222.20" y2="363.80" stroke="#555" stroke-width="0.45"/>
<line x1="220.60" y1="360.53" x2="222.20" y2="360.53" stroke="#555" stroke-width="0.45"/>
<line x1="220.60" y1="357.99" x2="222.20" y2="357.99" stroke="#555" stroke-width="0.45"/>
<line x1="220.60" y1="355.91" x2="222.20" y2="355.91" stroke="#555" stroke-width="0.45"/>
<line x1="220.60" y1="354.16" x2="222.20" y2="354.16" stroke="#555" stroke-width="0.45"/>
<line x1="220.60" y1="352.64" x2="222.20" y2="352.64" stroke="#555" stroke-width="0.45"/>
<line x1="243.40" y1="439.20" x2="243.40" y2="441.80" stroke="#111" stroke-width="0.7"/>
<line x1="278.40" y1="439.20" x2="278.40" y2="441.80" stroke="#111" stroke-width="0.7"/>
<line x1="313.40" y1="439.20" x2="313.40" y2="441.80" stroke="#111" stroke-width="0.7"/>
<text x="0" y="0" font-size="7.4" text-anchor="middle" fill="#2a2a2a" stroke="#2a2a2a" stroke-width="0.3" textLength="68.6" lengthAdjust="spacingAndGlyphs" transform="translate(195.2,394.0) rotate(-90)">Variant allele fraction (%)</text>
<rect x="234.50" y="377.80" width="16.90" height="16.20" fill="#d6d6d6"/>
<rect x="270.50" y="381.00" width="16.90" height="15.20" fill="#d6d6d6"/>
<polyline points="243.40,379.08 278.40,376.70 313.40,361.26" fill="none" stroke="#8a8a8a" stroke-width="0.45"/>
<polyline points="243.40,384.21 278.40,387.13 313.40,364.50" fill="none" stroke="#a0a0a0" stroke-width="0.45"/>
<polyline points="243.40,386.18 278.40,385.65 313.40,362.79" fill="none" stroke="#8a8a8a" stroke-width="0.45"/>
<polyline points="243.40,381.36 278.40,384.58 313.40,364.97" fill="none" stroke="#a0a0a0" stroke-width="0.45"/>
<polyline points="243.40,378.75 278.40,388.29 313.40,368.50" fill="none" stroke="#8a8a8a" stroke-width="0.45"/>
<polyline points="243.40,382.79 278.40,388.44 313.40,364.39" fill="none" stroke="#a0a0a0" stroke-width="0.45"/>
<polyline points="243.40,384.53 278.40,386.97 313.40,366.35" fill="none" stroke="#8a8a8a" stroke-width="0.45"/>
<polyline points="243.40,386.51 278.40,387.81 313.40,361.59" fill="none" stroke="#a0a0a0" stroke-width="0.45"/>
<polyline points="243.40,379.11 278.40,388.82 313.40,363.87" fill="none" stroke="#8a8a8a" stroke-width="0.45"/>
<polyline points="243.40,378.86 278.40,390.08 313.40,365.96" fill="none" stroke="#a0a0a0" stroke-width="0.45"/>
<polyline points="243.40,385.26 278.40,391.29 313.40,364.30" fill="none" stroke="#8a8a8a" stroke-width="0.45"/>
<polyline points="243.40,384.52 278.40,388.63 313.40,383.00" fill="none" stroke="#a0a0a0" stroke-width="0.45"/>
<polyline points="243.40,387.91 278.40,382.63 313.40,386.00" fill="none" stroke="#8a8a8a" stroke-width="0.45"/>
<polyline points="243.40,386.14 278.40,390.11 313.40,389.00" fill="none" stroke="#a0a0a0" stroke-width="0.45"/>
<polyline points="243.40,382.67 278.40,383.74 313.40,370.50" fill="none" stroke="#8a8a8a" stroke-width="0.45"/>
<polyline points="243.40,382.12 278.40,387.49 313.40,372.00" fill="none" stroke="#a0a0a0" stroke-width="0.45"/>
<polyline points="243.40,429.60 278.40,436.40 313.40,375.00" fill="none" stroke="#b0b0b0" stroke-width="0.45"/>
<polyline points="243.40,433.40 278.40,432.20 313.40,377.50" fill="none" stroke="#b0b0b0" stroke-width="0.45"/>
<polyline points="243.40,441.00 278.40,416.50 313.40,366.00" fill="none" stroke="#b8b8b8" stroke-width="0.45"/>
<polyline points="278.40,436.40 313.40,372.00" fill="none" stroke="#b0b0b0" stroke-width="0.45"/>
<polyline points="278.40,432.20 313.40,355.60" fill="none" stroke="#b8b8b8" stroke-width="0.45"/>
<circle cx="245.42" cy="379.08" r="1.45" fill="#2e9fdc" stroke="none" stroke-width="0.5"/>
<circle cx="279.93" cy="376.70" r="1.45" fill="#2e9fdc" stroke="none" stroke-width="0.5"/>
<circle cx="241.20" cy="384.21" r="1.45" fill="#142a58" stroke="none" stroke-width="0.5"/>
<circle cx="277.12" cy="387.13" r="1.45" fill="#142a58" stroke="none" stroke-width="0.5"/>
<circle cx="245.21" cy="386.18" r="1.45" fill="#2e9fdc" stroke="none" stroke-width="0.5"/>
<circle cx="278.27" cy="385.65" r="1.45" fill="#2e9fdc" stroke="none" stroke-width="0.5"/>
<circle cx="245.51" cy="381.36" r="1.45" fill="#2e9fdc" stroke="none" stroke-width="0.5"/>
<circle cx="277.95" cy="384.58" r="1.45" fill="#2e9fdc" stroke="none" stroke-width="0.5"/>
<circle cx="241.52" cy="378.75" r="1.45" fill="#2e9fdc" stroke="none" stroke-width="0.5"/>
<circle cx="278.97" cy="388.29" r="1.45" fill="#2e9fdc" stroke="none" stroke-width="0.5"/>
<circle cx="244.63" cy="382.79" r="1.45" fill="#142a58" stroke="none" stroke-width="0.5"/>
<circle cx="277.39" cy="388.44" r="1.45" fill="#142a58" stroke="none" stroke-width="0.5"/>
<circle cx="241.58" cy="384.53" r="1.45" fill="#2e9fdc" stroke="none" stroke-width="0.5"/>
<circle cx="277.66" cy="386.97" r="1.45" fill="#2e9fdc" stroke="none" stroke-width="0.5"/>
<circle cx="245.44" cy="386.51" r="1.45" fill="#2e9fdc" stroke="none" stroke-width="0.5"/>
<circle cx="279.54" cy="387.81" r="1.45" fill="#2e9fdc" stroke="none" stroke-width="0.5"/>
<circle cx="241.72" cy="379.11" r="1.45" fill="#2e9fdc" stroke="none" stroke-width="0.5"/>
<circle cx="277.28" cy="388.82" r="1.45" fill="#2e9fdc" stroke="none" stroke-width="0.5"/>
<circle cx="241.64" cy="378.86" r="1.45" fill="#142a58" stroke="none" stroke-width="0.5"/>
<circle cx="276.46" cy="390.08" r="1.45" fill="#142a58" stroke="none" stroke-width="0.5"/>
<circle cx="244.71" cy="385.26" r="1.45" fill="#2e9fdc" stroke="none" stroke-width="0.5"/>
<circle cx="276.98" cy="391.29" r="1.45" fill="#2e9fdc" stroke="none" stroke-width="0.5"/>
<circle cx="243.66" cy="384.52" r="1.45" fill="#2e9fdc" stroke="none" stroke-width="0.5"/>
<circle cx="278.17" cy="388.63" r="1.45" fill="#2e9fdc" stroke="none" stroke-width="0.5"/>
<circle cx="242.04" cy="387.91" r="1.45" fill="#2e9fdc" stroke="none" stroke-width="0.5"/>
<circle cx="279.42" cy="382.63" r="1.45" fill="#2e9fdc" stroke="none" stroke-width="0.5"/>
<circle cx="241.78" cy="386.14" r="1.45" fill="#142a58" stroke="none" stroke-width="0.5"/>
<circle cx="279.03" cy="390.11" r="1.45" fill="#142a58" stroke="none" stroke-width="0.5"/>
<circle cx="241.71" cy="382.67" r="1.45" fill="#2e9fdc" stroke="none" stroke-width="0.5"/>
<circle cx="278.05" cy="383.74" r="1.45" fill="#2e9fdc" stroke="none" stroke-width="0.5"/>
<circle cx="242.14" cy="382.12" r="1.45" fill="#2e9fdc" stroke="none" stroke-width="0.5"/>
<circle cx="277.39" cy="387.49" r="1.45" fill="#2e9fdc" stroke="none" stroke-width="0.5"/>
<circle cx="315.85" cy="366.62" r="1.35" fill="#2e9fdc" stroke="none" stroke-width="0.5"/>
<circle cx="312.38" cy="367.19" r="1.35" fill="#2e9fdc" stroke="none" stroke-width="0.5"/>
<circle cx="311.90" cy="363.76" r="1.35" fill="#2e9fdc" stroke="none" stroke-width="0.5"/>
<circle cx="315.24" cy="365.49" r="1.35" fill="#2e9fdc" stroke="none" stroke-width="0.5"/>
<circle cx="311.32" cy="367.93" r="1.35" fill="#2e9fdc" stroke="none" stroke-width="0.5"/>
<circle cx="311.91" cy="362.81" r="1.35" fill="#2e9fdc" stroke="none" stroke-width="0.5"/>
<circle cx="314.82" cy="363.30" r="1.35" fill="#2e9fdc" stroke="none" stroke-width="0.5"/>
<circle cx="312.34" cy="361.51" r="1.35" fill="#2e9fdc" stroke="none" stroke-width="0.5"/>
<circle cx="311.27" cy="365.08" r="1.35" fill="#2e9fdc" stroke="none" stroke-width="0.5"/>
<circle cx="312.06" cy="365.21" r="1.35" fill="#2e9fdc" stroke="none" stroke-width="0.5"/>
<circle cx="312.73" cy="364.17" r="1.35" fill="#2e9fdc" stroke="none" stroke-width="0.5"/>
<circle cx="315.79" cy="364.39" r="1.35" fill="#2e9fdc" stroke="none" stroke-width="0.5"/>
<circle cx="313.79" cy="367.07" r="1.35" fill="#2e9fdc" stroke="none" stroke-width="0.5"/>
<circle cx="311.75" cy="362.08" r="1.35" fill="#2e9fdc" stroke="none" stroke-width="0.5"/>
<circle cx="315.52" cy="366.72" r="1.35" fill="#2e9fdc" stroke="none" stroke-width="0.5"/>
<circle cx="312.10" cy="362.33" r="1.35" fill="#2e9fdc" stroke="none" stroke-width="0.5"/>
<circle cx="314.65" cy="367.58" r="1.35" fill="#2e9fdc" stroke="none" stroke-width="0.5"/>
<circle cx="311.82" cy="367.65" r="1.35" fill="#2e9fdc" stroke="none" stroke-width="0.5"/>
<circle cx="315.39" cy="365.22" r="1.35" fill="#2e9fdc" stroke="none" stroke-width="0.5"/>
<circle cx="312.99" cy="361.73" r="1.35" fill="#2e9fdc" stroke="none" stroke-width="0.5"/>
<circle cx="311.00" cy="367.74" r="1.35" fill="#2e9fdc" stroke="none" stroke-width="0.5"/>
<circle cx="312.04" cy="365.93" r="1.35" fill="#2e9fdc" stroke="none" stroke-width="0.5"/>
<polygon points="309.40,362.00 317.40,362.00 313.40,369.00" fill="#2e9fdc" stroke="none" stroke-width="0.5"/>
<circle cx="312.90" cy="369.50" r="1.25" fill="#142a58" stroke="none" stroke-width="0.5"/>
<circle cx="314.20" cy="371.00" r="1.25" fill="#142a58" stroke="none" stroke-width="0.5"/>
<circle cx="312.40" cy="372.50" r="1.25" fill="#142a58" stroke="none" stroke-width="0.5"/>
<circle cx="313.40" cy="386.00" r="1.25" fill="#142a58" stroke="none" stroke-width="0.5"/>
<circle cx="314.00" cy="389.00" r="1.25" fill="#142a58" stroke="none" stroke-width="0.5"/>
<circle cx="312.60" cy="384.00" r="1.25" fill="#142a58" stroke="none" stroke-width="0.5"/>
<circle cx="314.60" cy="391.50" r="1.25" fill="#142a58" stroke="none" stroke-width="0.5"/>
<circle cx="313.40" cy="375.00" r="1.20" fill="#8a2a1a" stroke="none" stroke-width="0.5"/>
<circle cx="314.40" cy="377.50" r="1.20" fill="#8a2a1a" stroke="none" stroke-width="0.5"/>
<circle cx="312.60" cy="378.40" r="1.20" fill="#8a2a1a" stroke="none" stroke-width="0.5"/>
<circle cx="313.90" cy="374.00" r="1.10" fill="#222" stroke="none" stroke-width="0.5"/>
<circle cx="313.40" cy="355.60" r="1.25" fill="#c0282a" stroke="none" stroke-width="0.5"/>
<circle cx="243.40" cy="429.60" r="1.40" fill="#b01c2c" stroke="none" stroke-width="0.5"/>
<circle cx="243.40" cy="433.40" r="1.40" fill="#b01c2c" stroke="none" stroke-width="0.5"/>
<circle cx="278.40" cy="416.50" r="1.40" fill="#b01c2c" stroke="none" stroke-width="0.5"/>
<circle cx="278.40" cy="432.20" r="1.40" fill="#b01c2c" stroke="none" stroke-width="0.5"/>
<circle cx="278.40" cy="436.40" r="1.40" fill="#b01c2c" stroke="none" stroke-width="0.5"/>
<rect x="265.6" y="350.3" width="42.4" height="7.8" rx="2.8" fill="#fff" stroke="#444" stroke-width="0.6"/>
<text x="268.60" y="356.80" font-size="6.1" fill="#2a2a2a" stroke="#2a2a2a" stroke-width="0.15"><tspan font-style="italic">BTK</tspan> L528W</text>
<line x1="308.00" y1="354.20" x2="312.50" y2="355.00" stroke="#444" stroke-width="0.5"/>
<text x="317.40" y="358.10" font-size="6.2" font-style="italic" fill="#2a2a2a" stroke="#2a2a2a" stroke-width="0.16">ATM</text>
<text x="245.00" y="375.10" font-size="6.2" font-style="italic" fill="#2a2a2a" stroke="#2a2a2a" stroke-width="0.16">ATM</text>
<text x="260.00" y="392.30" font-size="6.2" font-style="italic" fill="#2a2a2a" stroke="#2a2a2a" stroke-width="0.16">ATM</text>
<text x="194.50" y="451.80" font-size="6.35" fill="#2a2a2a" stroke="#2a2a2a" stroke-width="0.18">Compartment:</text>
<text x="243.40" y="451.80" font-size="6.35" text-anchor="middle" fill="#2a2a2a" stroke="#2a2a2a" stroke-width="0.18">BM</text>
<text x="278.40" y="451.80" font-size="6.35" text-anchor="middle" fill="#2a2a2a" stroke="#2a2a2a" stroke-width="0.18">PB</text>
<text x="313.40" y="451.80" font-size="6.35" text-anchor="middle" fill="#2a2a2a" stroke="#2a2a2a" stroke-width="0.18">cfDNA</text>
<line x1="243.40" y1="459.40" x2="243.40" y2="463.70" stroke="#111" stroke-width="0.7"/>
<line x1="278.40" y1="459.40" x2="278.40" y2="463.70" stroke="#111" stroke-width="0.7"/>
<line x1="313.40" y1="459.40" x2="313.40" y2="463.70" stroke="#111" stroke-width="0.7"/>
<path d="M210.3,484.9 C220,479 229,469 236.5,465.0 Q239,463.7 243.4,463.7 L313.4,463.7 L313.4,505.5 L243.4,505.5 Q239,505.5 236.5,504.2 C229,500 220,490.5 210.3,484.9 Z" fill="#119ab6"/>
<path d="M233.6,484.6 L240.6,464.6 Q241.5,463.7 243.4,463.7 L313.4,463.7 L313.4,505.5 L243.4,505.5 Q241.5,505.5 240.6,504.6 Z" fill="#1a4b98"/>
<polygon points="278.50,505.50 279.37,505.44 280.25,505.24 281.12,504.94 281.99,504.51 282.86,503.99 283.74,503.36 284.61,502.64 285.48,501.84 286.35,500.96 287.23,500.00 288.10,498.98 288.97,497.90 289.84,496.76 290.71,495.58 291.59,494.36 292.46,493.11 293.33,491.83 294.20,490.53 295.08,489.22 295.95,487.90 296.82,486.58 297.69,485.27 298.57,483.97 299.44,482.69 300.31,481.44 301.19,480.22 302.06,479.04 302.93,477.90 303.80,476.82 304.68,475.80 305.55,474.84 306.42,473.96 307.29,473.16 308.17,472.44 309.04,471.81 309.91,471.29 310.78,470.86 311.65,470.56 312.53,470.36 313.40,470.30 313.40,505.50" fill="#ee1c1c" stroke="none" stroke-width="0.5"/>
<path d="M309.4,486.0 L313.4,481.6 L313.4,490.4 Z" fill="#b8101c"/>
<path d="M239.4,484.3 Q239.6,482.2 241.0,482.05 L241.00,482.05 L242.21,482.05 L243.41,482.05 L244.62,482.05 L245.83,482.05 L247.03,482.05 L248.24,482.05 L249.45,482.05 L250.65,482.05 L251.86,482.05 L253.07,482.05 L254.27,482.05 L255.48,482.05 L256.69,482.05 L257.89,482.05 L259.10,482.05 L260.31,482.05 L261.51,482.05 L262.72,482.05 L263.93,482.05 L265.13,482.05 L266.34,482.05 L267.55,482.05 L268.75,482.05 L269.96,482.05 L271.17,482.05 L272.37,482.05 L273.58,482.05 L274.79,482.05 L275.99,482.05 L277.20,482.05 L278.41,481.98 L279.61,481.81 L280.82,481.53 L282.03,481.16 L283.23,480.71 L284.44,480.18 L285.65,479.58 L286.85,478.92 L288.06,478.21 L289.27,477.45 L290.47,476.65 L291.68,475.82 L292.89,474.97 L294.09,474.11 L295.30,473.24 L296.51,472.37 L297.71,471.52 L298.92,470.68 L300.13,469.87 L301.33,469.09 L302.54,468.36 L303.75,467.68 L304.95,467.05 L306.16,466.49 L307.37,466.01 L308.57,465.61 L309.78,465.30 L310.99,465.09 L312.19,464.99 L313.40,465.00 L313.40,466.60 L312.19,466.73 L310.99,466.97 L309.78,467.32 L308.57,467.77 L307.37,468.30 L306.16,468.91 L304.95,469.60 L303.75,470.35 L302.54,471.16 L301.33,472.01 L300.13,472.90 L298.92,473.83 L297.71,474.77 L296.51,475.74 L295.30,476.71 L294.09,477.68 L292.89,478.64 L291.68,479.58 L290.47,480.50 L289.27,481.38 L288.06,482.22 L286.85,483.01 L285.65,483.75 L284.44,484.41 L283.23,485.01 L282.03,485.51 L280.82,485.93 L279.61,486.25 L278.41,486.46 L277.20,486.55 L275.99,486.55 L274.79,486.55 L273.58,486.55 L272.37,486.55 L271.17,486.55 L269.96,486.55 L268.75,486.55 L267.55,486.55 L266.34,486.55 L265.13,486.55 L263.93,486.55 L262.72,486.55 L261.51,486.55 L260.31,486.55 L259.10,486.55 L257.89,486.55 L256.69,486.55 L255.48,486.55 L254.27,486.55 L253.07,486.55 L251.86,486.55 L250.65,486.55 L249.45,486.55 L248.24,486.55 L247.03,486.55 L245.83,486.55 L244.62,486.55 L243.41,486.55 L242.21,486.55 L241.00,486.55 Q239.6,486.4 239.4,484.3 Z" fill="#f2a58c"/>
<line x1="243.40" y1="463.70" x2="243.40" y2="505.50" stroke="#7fb2e6" stroke-width="0.7"/>
<line x1="278.40" y1="463.70" x2="278.40" y2="505.50" stroke="#7fb2e6" stroke-width="0.7"/>
<rect x="318.60" y="463.50" width="1.50" height="6.60" fill="#2e7fd0"/>
<rect x="318.60" y="470.10" width="1.50" height="35.40" fill="#ee1c1c"/>
<text x="324.40" y="465.40" font-size="5.4" fill="#2a2a2a" stroke="#2a2a2a" stroke-width="0.08"><tspan font-style="italic">BTK</tspan> Wild-type</text>
<text x="324.40" y="473.00" font-size="5.5" font-weight="bold" fill="#111" stroke="#111" stroke-width="0.09">C481R</text>
<text x="324.40" y="479.00" font-size="5.4" fill="#2a2a2a" stroke="#2a2a2a" stroke-width="0.08">(VAF 0.86%)</text>
<text x="324.40" y="490.00" font-size="5.5" font-weight="bold" fill="#111" stroke="#111" stroke-width="0.09">L528W</text>
<text x="324.40" y="497.00" font-size="5.4" fill="#2a2a2a" stroke="#2a2a2a" stroke-width="0.08">(VAF 55%)</text>
<text x="375.20" y="134.60" font-size="10.8" font-weight="bold" fill="#111" stroke="#111" stroke-width="0.45">D</text>
<line x1="406.30" y1="140.00" x2="406.30" y2="220.90" stroke="#111" stroke-width="0.9"/>
<line x1="406.30" y1="220.90" x2="481.00" y2="220.90" stroke="#111" stroke-width="0.9"/>
<line x1="402.80" y1="217.20" x2="406.30" y2="217.20" stroke="#111" stroke-width="0.7"/>
<text x="400.60" y="219.50" font-size="6.6" text-anchor="end" fill="#2a2a2a" stroke="#2a2a2a" stroke-width="0.18">0.00</text>
<line x1="402.80" y1="199.00" x2="406.30" y2="199.00" stroke="#111" stroke-width="0.7"/>
<text x="400.60" y="201.30" font-size="6.6" text-anchor="end" fill="#2a2a2a" stroke="#2a2a2a" stroke-width="0.18">0.25</text>
<line x1="402.80" y1="180.80" x2="406.30" y2="180.80" stroke="#111" stroke-width="0.7"/>
<text x="400.60" y="183.10" font-size="6.6" text-anchor="end" fill="#2a2a2a" stroke="#2a2a2a" stroke-width="0.18">0.50</text>
<line x1="402.80" y1="162.60" x2="406.30" y2="162.60" stroke="#111" stroke-width="0.7"/>
<text x="400.60" y="164.90" font-size="6.6" text-anchor="end" fill="#2a2a2a" stroke="#2a2a2a" stroke-width="0.18">0.75</text>
<line x1="402.80" y1="144.40" x2="406.30" y2="144.40" stroke="#111" stroke-width="0.7"/>
<text x="400.60" y="146.70" font-size="6.6" text-anchor="end" fill="#2a2a2a" stroke="#2a2a2a" stroke-width="0.18">1.00</text>
<line x1="409.80" y1="220.90" x2="409.80" y2="223.40" stroke="#111" stroke-width="0.7"/>
<text x="409.80" y="232.20" font-size="6.4" text-anchor="middle" fill="#2a2a2a" stroke="#2a2a2a" stroke-width="0.18">0</text>
<line x1="429.75" y1="220.90" x2="429.75" y2="223.40" stroke="#111" stroke-width="0.7"/>
<text x="429.75" y="232.20" font-size="6.4" text-anchor="middle" fill="#2a2a2a" stroke="#2a2a2a" stroke-width="0.18">365</text>
<line x1="449.70" y1="220.90" x2="449.70" y2="223.40" stroke="#111" stroke-width="0.7"/>
<text x="449.70" y="232.20" font-size="6.4" text-anchor="middle" fill="#2a2a2a" stroke="#2a2a2a" stroke-width="0.18">730</text>
<line x1="469.65" y1="220.90" x2="469.65" y2="223.40" stroke="#111" stroke-width="0.7"/>
<text x="469.65" y="232.20" font-size="6.4" text-anchor="middle" fill="#2a2a2a" stroke="#2a2a2a" stroke-width="0.18">1095</text>
<text x="0" y="0" font-size="8" text-anchor="middle" fill="#2a2a2a" stroke="#2a2a2a" stroke-width="0.38" textLength="29.6" lengthAdjust="spacingAndGlyphs" transform="translate(444.0,245.2)">PFS (days)</text>
<text x="0" y="0" font-size="8" text-anchor="middle" fill="#2a2a2a" stroke="#2a2a2a" stroke-width="0.38" textLength="51.7" lengthAdjust="spacingAndGlyphs" transform="translate(381.4,180.8) rotate(-90)">Survival probability</text>
<polyline points="410.70,144.50 411.80,144.50 411.80,147.00 413.00,147.00 413.00,149.50 414.50,149.50 414.50,152.00 415.60,152.00 415.60,155.20 417.30,155.20 417.30,157.60 419.70,157.60 419.70,159.20 423.80,159.20 423.80,160.90 427.90,160.90 427.90,163.30 432.00,163.30 432.00,165.80 444.20,165.80 444.20,167.40 445.00,167.40 445.00,169.90 462.20,169.90 462.20,178.90 479.40,178.90" fill="none" stroke="#1c90a4" stroke-width="1.4" stroke-linejoin="miter"/>
<polyline points="410.70,144.50 412.40,144.50 412.40,147.80 414.00,147.80 414.00,152.70 415.60,152.70 415.60,159.20 417.30,159.20 417.30,167.40 418.00,167.40 418.00,175.60 419.00,175.60 419.00,183.80 423.00,183.80 423.00,188.70 425.40,188.70 425.40,194.40 432.50,194.40 432.50,197.00 434.20,197.00 434.20,200.30 446.70,200.30 446.70,203.40 448.30,203.40 448.30,209.00 450.50,209.00" fill="none" stroke="#a8173f" stroke-width="1.4" stroke-linejoin="miter"/>
<line x1="437.00" y1="164.60" x2="437.00" y2="167.00" stroke="#1c90a4" stroke-width="0.6"/>
<line x1="440.00" y1="164.60" x2="440.00" y2="167.00" stroke="#1c90a4" stroke-width="0.6"/>
<line x1="448.00" y1="168.70" x2="448.00" y2="171.10" stroke="#1c90a4" stroke-width="0.6"/>
<line x1="452.00" y1="168.70" x2="452.00" y2="171.10" stroke="#1c90a4" stroke-width="0.6"/>
<line x1="455.00" y1="168.70" x2="455.00" y2="171.10" stroke="#1c90a4" stroke-width="0.6"/>
<line x1="457.00" y1="168.70" x2="457.00" y2="171.10" stroke="#1c90a4" stroke-width="0.6"/>
<line x1="460.00" y1="168.70" x2="460.00" y2="171.10" stroke="#1c90a4" stroke-width="0.6"/>
<line x1="467.00" y1="177.70" x2="467.00" y2="180.10" stroke="#1c90a4" stroke-width="0.6"/>
<line x1="470.00" y1="177.70" x2="470.00" y2="180.10" stroke="#1c90a4" stroke-width="0.6"/>
<line x1="473.00" y1="177.70" x2="473.00" y2="180.10" stroke="#1c90a4" stroke-width="0.6"/>
<line x1="476.00" y1="177.70" x2="476.00" y2="180.10" stroke="#1c90a4" stroke-width="0.6"/>
<line x1="438.00" y1="198.80" x2="438.00" y2="201.20" stroke="#a8173f" stroke-width="0.6"/>
<line x1="441.00" y1="198.80" x2="441.00" y2="201.20" stroke="#a8173f" stroke-width="0.6"/>
<line x1="444.00" y1="198.80" x2="444.00" y2="201.20" stroke="#a8173f" stroke-width="0.6"/>
<text x="449.30" y="162.30" font-size="6.5" fill="#2a2a2a" stroke="#2a2a2a" stroke-width="0.18"><tspan font-style="italic">TP53</tspan> WT</text>
<text x="442.00" y="197.20" font-size="6.5" fill="#2a2a2a" stroke="#2a2a2a" stroke-width="0.18"><tspan font-style="italic">TP53</tspan> MUT</text>
<text x="410.00" y="216.40" font-size="6.4" fill="#2a2a2a" stroke="#2a2a2a" stroke-width="0.18"><tspan font-style="italic">P</tspan> = .00016</text>
<text x="375.60" y="273.50" font-size="10.8" font-weight="bold" fill="#111" stroke="#111" stroke-width="0.45">E</text>
<line x1="406.30" y1="280.00" x2="406.30" y2="360.10" stroke="#111" stroke-width="0.9"/>
<line x1="406.30" y1="360.10" x2="481.00" y2="360.10" stroke="#111" stroke-width="0.9"/>
<line x1="402.80" y1="356.20" x2="406.30" y2="356.20" stroke="#111" stroke-width="0.7"/>
<text x="400.60" y="358.50" font-size="6.6" text-anchor="end" fill="#2a2a2a" stroke="#2a2a2a" stroke-width="0.18">0.00</text>
<line x1="402.80" y1="338.00" x2="406.30" y2="338.00" stroke="#111" stroke-width="0.7"/>
<text x="400.60" y="340.30" font-size="6.6" text-anchor="end" fill="#2a2a2a" stroke="#2a2a2a" stroke-width="0.18">0.25</text>
<line x1="402.80" y1="319.80" x2="406.30" y2="319.80" stroke="#111" stroke-width="0.7"/>
<text x="400.60" y="322.10" font-size="6.6" text-anchor="end" fill="#2a2a2a" stroke="#2a2a2a" stroke-width="0.18">0.50</text>
<line x1="402.80" y1="301.60" x2="406.30" y2="301.60" stroke="#111" stroke-width="0.7"/>
<text x="400.60" y="303.90" font-size="6.6" text-anchor="end" fill="#2a2a2a" stroke="#2a2a2a" stroke-width="0.18">0.75</text>
<line x1="402.80" y1="283.40" x2="406.30" y2="283.40" stroke="#111" stroke-width="0.7"/>
<text x="400.60" y="285.70" font-size="6.6" text-anchor="end" fill="#2a2a2a" stroke="#2a2a2a" stroke-width="0.18">1.00</text>
<line x1="409.80" y1="360.10" x2="409.80" y2="362.60" stroke="#111" stroke-width="0.7"/>
<text x="409.80" y="371.90" font-size="6.4" text-anchor="middle" fill="#2a2a2a" stroke="#2a2a2a" stroke-width="0.18">0</text>
<line x1="429.75" y1="360.10" x2="429.75" y2="362.60" stroke="#111" stroke-width="0.7"/>
<text x="429.75" y="371.90" font-size="6.4" text-anchor="middle" fill="#2a2a2a" stroke="#2a2a2a" stroke-width="0.18">365</text>
<line x1="449.70" y1="360.10" x2="449.70" y2="362.60" stroke="#111" stroke-width="0.7"/>
<text x="449.70" y="371.90" font-size="6.4" text-anchor="middle" fill="#2a2a2a" stroke="#2a2a2a" stroke-width="0.18">730</text>
<line x1="469.65" y1="360.10" x2="469.65" y2="362.60" stroke="#111" stroke-width="0.7"/>
<text x="469.65" y="371.90" font-size="6.4" text-anchor="middle" fill="#2a2a2a" stroke="#2a2a2a" stroke-width="0.18">1095</text>
<text x="0" y="0" font-size="8" text-anchor="middle" fill="#2a2a2a" stroke="#2a2a2a" stroke-width="0.38" textLength="29.6" lengthAdjust="spacingAndGlyphs" transform="translate(444.0,382.6)">PFS (days)</text>
<text x="0" y="0" font-size="8" text-anchor="middle" fill="#2a2a2a" stroke="#2a2a2a" stroke-width="0.38" textLength="51.7" lengthAdjust="spacingAndGlyphs" transform="translate(381.4,319.79999999999995) rotate(-90)">Survival probability</text>
<polyline points="410.70,283.40 411.20,283.40 411.20,287.80 412.40,287.80 412.40,290.30 414.00,290.30 414.00,294.30 415.60,294.30 415.60,297.60 417.30,297.60 417.30,302.50 418.10,302.50 418.10,309.90 419.70,309.90 419.70,311.50 422.00,311.50 422.00,313.50 424.60,313.50 424.60,316.40 431.00,316.40 431.00,318.00 432.80,318.00 432.80,323.00 444.20,323.00 444.20,325.40 447.50,325.40 447.50,327.00 449.00,327.00 449.00,327.90 462.20,327.90 462.20,335.20 478.50,335.20" fill="none" stroke="#1c90a4" stroke-width="1.4"/>
<polyline points="410.70,283.40 418.10,283.40 418.10,290.30 434.40,290.30 434.40,297.60 471.20,297.60" fill="none" stroke="#a8173f" stroke-width="1.4"/>
<line x1="437.00" y1="296.40" x2="437.00" y2="298.80" stroke="#a8173f" stroke-width="0.6"/>
<line x1="439.00" y1="296.40" x2="439.00" y2="298.80" stroke="#a8173f" stroke-width="0.6"/>
<line x1="441.00" y1="296.40" x2="441.00" y2="298.80" stroke="#a8173f" stroke-width="0.6"/>
<line x1="443.00" y1="296.40" x2="443.00" y2="298.80" stroke="#a8173f" stroke-width="0.6"/>
<line x1="446.00" y1="296.40" x2="446.00" y2="298.80" stroke="#a8173f" stroke-width="0.6"/>
<line x1="450.00" y1="296.40" x2="450.00" y2="298.80" stroke="#a8173f" stroke-width="0.6"/>
<line x1="455.00" y1="296.40" x2="455.00" y2="298.80" stroke="#a8173f" stroke-width="0.6"/>
<line x1="460.00" y1="296.40" x2="460.00" y2="298.80" stroke="#a8173f" stroke-width="0.6"/>
<line x1="465.00" y1="296.40" x2="465.00" y2="298.80" stroke="#a8173f" stroke-width="0.6"/>
<line x1="431.50" y1="315.20" x2="431.50" y2="317.60" stroke="#1c90a4" stroke-width="0.6"/>
<line x1="440.00" y1="321.80" x2="440.00" y2="324.20" stroke="#1c90a4" stroke-width="0.6"/>
<line x1="443.00" y1="321.80" x2="443.00" y2="324.20" stroke="#1c90a4" stroke-width="0.6"/>
<line x1="457.00" y1="326.70" x2="457.00" y2="329.10" stroke="#1c90a4" stroke-width="0.6"/>
<line x1="470.00" y1="334.00" x2="470.00" y2="336.40" stroke="#1c90a4" stroke-width="0.6"/>
<line x1="474.00" y1="334.00" x2="474.00" y2="336.40" stroke="#1c90a4" stroke-width="0.6"/>
<text x="437.70" y="294.00" font-size="6.5" fill="#2a2a2a" stroke="#2a2a2a" stroke-width="0.18"><tspan font-style="italic">SMARCA4</tspan> MUT</text>
<text x="437.70" y="319.40" font-size="6.5" fill="#2a2a2a" stroke="#2a2a2a" stroke-width="0.18"><tspan font-style="italic">SMARCA4</tspan> WT</text>
<text x="410.20" y="356.60" font-size="6.4" fill="#2a2a2a" stroke="#2a2a2a" stroke-width="0.18"><tspan font-style="italic">P</tspan> = .038</text>
<text x="374.20" y="413.30" font-size="10.8" font-weight="bold" fill="#111" stroke="#111" stroke-width="0.45">F</text>
<text x="398.80" y="414.50" font-size="8.3" fill="#2a2a2a" stroke="#2a2a2a" stroke-width="0.18">Multivariable models (PFS)</text>
<text x="385.00" y="427.30" font-size="6.35" font-weight="bold" fill="#111" stroke="#111" stroke-width="0.18">Model#1</text>
<text x="440.00" y="427.30" font-size="6.35" font-weight="bold" fill="#111" stroke="#111" stroke-width="0.18">HR</text>
<text x="512.00" y="427.30" font-size="6.6" text-anchor="end" font-weight="bold" fill="#111" stroke="#111" stroke-width="0.18"><tspan font-style="italic">P</tspan> value</text>
<line x1="385.00" y1="429.20" x2="512.50" y2="429.20" stroke="#222" stroke-width="1.1"/>
<line x1="475.90" y1="430.90" x2="475.90" y2="461.50" stroke="#222" stroke-width="0.8"/>
<line x1="467.40" y1="461.50" x2="489.50" y2="461.50" stroke="#222" stroke-width="0.9"/>
<line x1="470.90" y1="461.50" x2="470.90" y2="464.40" stroke="#222" stroke-width="0.75"/>
<line x1="475.90" y1="461.50" x2="475.90" y2="464.40" stroke="#222" stroke-width="0.75"/>
<line x1="480.80" y1="461.50" x2="480.80" y2="464.40" stroke="#222" stroke-width="0.75"/>
<line x1="485.70" y1="461.50" x2="485.70" y2="464.40" stroke="#222" stroke-width="0.75"/>
<line x1="488.70" y1="461.50" x2="488.70" y2="464.40" stroke="#222" stroke-width="0.75"/>
<text x="0" y="0" font-size="5.9" fill="#2a2a2a" stroke="#2a2a2a" stroke-width="0.15" transform="translate(465.4,479.1) rotate(-45)">0.50</text>
<text x="0" y="0" font-size="5.9" fill="#2a2a2a" stroke="#2a2a2a" stroke-width="0.15" transform="translate(478.9,476.7) rotate(-45)">2.0</text>
<text x="385.00" y="439.00" font-size="6.3" fill="#2a2a2a" stroke="#2a2a2a" stroke-width="0.17"><tspan font-style="italic">TP53</tspan> MUT</text>
<text x="440.00" y="439.00" font-size="6.3" fill="#2a2a2a" stroke="#2a2a2a" stroke-width="0.17">4.03</text>
<text x="512.00" y="439.00" font-size="6.3" text-anchor="end" fill="#2a2a2a" stroke="#2a2a2a" stroke-width="0.17">&lt;.001</text>
<line x1="481.00" y1="436.70" x2="493.50" y2="436.70" stroke="#c8102e" stroke-width="0.9"/>
<line x1="481.00" y1="434.90" x2="481.00" y2="438.50" stroke="#c8102e" stroke-width="0.9"/>
<line x1="493.50" y1="434.90" x2="493.50" y2="438.50" stroke="#c8102e" stroke-width="0.9"/>
<polygon points="482.60,436.70 486.20,433.10 489.80,436.70 486.20,440.30" fill="#c8102e" stroke="none" stroke-width="0.5"/>
<text x="385.00" y="448.80" font-size="6.3" fill="#2a2a2a" stroke="#2a2a2a" stroke-width="0.17"><tspan font-style="italic">SMARCA4</tspan> MUT</text>
<text x="440.00" y="448.80" font-size="6.3" fill="#2a2a2a" stroke="#2a2a2a" stroke-width="0.17">0.21</text>
<text x="512.00" y="448.80" font-size="6.3" text-anchor="end" fill="#2a2a2a" stroke="#2a2a2a" stroke-width="0.17">.037</text>
<line x1="453.60" y1="446.50" x2="475.30" y2="446.50" stroke="#c8102e" stroke-width="0.9" stroke-dasharray="1.6,1.1"/>
<line x1="453.60" y1="444.70" x2="453.60" y2="448.30" stroke="#c8102e" stroke-width="0.9"/>
<line x1="475.30" y1="444.70" x2="475.30" y2="448.30" stroke="#c8102e" stroke-width="0.9"/>
<polygon points="460.70,446.50 464.30,442.90 467.90,446.50 464.30,450.10" fill="#c8102e" stroke="none" stroke-width="0.5"/>
<text x="385.00" y="458.60" font-size="6.3" fill="#2a2a2a" stroke="#2a2a2a" stroke-width="0.17">MIPI</text>
<text x="440.00" y="458.60" font-size="6.3" fill="#2a2a2a" stroke="#2a2a2a" stroke-width="0.17">1.77</text>
<text x="512.00" y="458.60" font-size="6.3" text-anchor="end" fill="#2a2a2a" stroke="#2a2a2a" stroke-width="0.17">.070</text>
<line x1="476.70" y1="456.30" x2="485.40" y2="456.30" stroke="#7a4a1c" stroke-width="0.9"/>
<line x1="476.70" y1="454.50" x2="476.70" y2="458.10" stroke="#7a4a1c" stroke-width="0.9"/>
<line x1="485.40" y1="454.50" x2="485.40" y2="458.10" stroke="#7a4a1c" stroke-width="0.9"/>
<polygon points="476.60,456.30 480.20,452.70 483.80,456.30 480.20,459.90" fill="#7a4a1c" stroke="none" stroke-width="0.5"/>
<text x="385.00" y="494.00" font-size="6.35" font-weight="bold" fill="#111" stroke="#111" stroke-width="0.18">Model#2</text>
<text x="440.00" y="494.00" font-size="6.35" font-weight="bold" fill="#111" stroke="#111" stroke-width="0.18">HR</text>
<text x="512.00" y="494.00" font-size="6.6" text-anchor="end" font-weight="bold" fill="#111" stroke="#111" stroke-width="0.18"><tspan font-style="italic">P</tspan> value</text>
<line x1="385.00" y1="495.90" x2="512.50" y2="495.90" stroke="#222" stroke-width="1.1"/>
<line x1="474.50" y1="497.60" x2="474.50" y2="527.30" stroke="#222" stroke-width="0.8"/>
<line x1="466.00" y1="527.30" x2="488.10" y2="527.30" stroke="#222" stroke-width="0.9"/>
<line x1="469.50" y1="527.30" x2="469.50" y2="530.20" stroke="#222" stroke-width="0.75"/>
<line x1="474.50" y1="527.30" x2="474.50" y2="530.20" stroke="#222" stroke-width="0.75"/>
<line x1="479.40" y1="527.30" x2="479.40" y2="530.20" stroke="#222" stroke-width="0.75"/>
<line x1="484.30" y1="527.30" x2="484.30" y2="530.20" stroke="#222" stroke-width="0.75"/>
<line x1="487.30" y1="527.30" x2="487.30" y2="530.20" stroke="#222" stroke-width="0.75"/>
<text x="0" y="0" font-size="5.9" fill="#2a2a2a" stroke="#2a2a2a" stroke-width="0.15" transform="translate(464.0,544.9) rotate(-45)">0.50</text>
<text x="0" y="0" font-size="5.9" fill="#2a2a2a" stroke="#2a2a2a" stroke-width="0.15" transform="translate(477.5,542.5) rotate(-45)">2.0</text>
<text x="385.00" y="504.60" font-size="6.3" fill="#2a2a2a" stroke="#2a2a2a" stroke-width="0.17"><tspan font-style="italic">TP53</tspan> MUT</text>
<text x="440.00" y="504.60" font-size="6.3" fill="#2a2a2a" stroke="#2a2a2a" stroke-width="0.17">4.80</text>
<text x="512.00" y="504.60" font-size="6.3" text-anchor="end" fill="#2a2a2a" stroke="#2a2a2a" stroke-width="0.17">&lt;.001</text>
<line x1="480.00" y1="502.30" x2="492.60" y2="502.30" stroke="#c8102e" stroke-width="0.9"/>
<line x1="480.00" y1="500.50" x2="480.00" y2="504.10" stroke="#c8102e" stroke-width="0.9"/>
<line x1="492.60" y1="500.50" x2="492.60" y2="504.10" stroke="#c8102e" stroke-width="0.9"/>
<polygon points="482.40,502.30 486.00,498.70 489.60,502.30 486.00,505.90" fill="#c8102e" stroke="none" stroke-width="0.5"/>
<text x="385.00" y="514.10" font-size="6.3" fill="#2a2a2a" stroke="#2a2a2a" stroke-width="0.17"><tspan font-style="italic">SMARCA4</tspan> MUT</text>
<text x="440.00" y="514.10" font-size="6.3" fill="#2a2a2a" stroke="#2a2a2a" stroke-width="0.17">0.24</text>
<text x="512.00" y="514.10" font-size="6.3" text-anchor="end" fill="#2a2a2a" stroke="#2a2a2a" stroke-width="0.17">.057</text>
<line x1="453.50" y1="511.80" x2="475.00" y2="511.80" stroke="#7a4a1c" stroke-width="0.9" stroke-dasharray="1.6,1.1"/>
<line x1="453.50" y1="510.00" x2="453.50" y2="513.60" stroke="#7a4a1c" stroke-width="0.9"/>
<line x1="475.00" y1="510.00" x2="475.00" y2="513.60" stroke="#7a4a1c" stroke-width="0.9"/>
<polygon points="460.10,511.80 463.70,508.20 467.30,511.80 463.70,515.40" fill="#7a4a1c" stroke="none" stroke-width="0.5"/>
<text x="385.00" y="523.60" font-size="6.3" fill="#2a2a2a" stroke="#2a2a2a" stroke-width="0.17">Treatment lines</text>
<text x="440.00" y="523.60" font-size="6.3" fill="#2a2a2a" stroke="#2a2a2a" stroke-width="0.17">1.25</text>
<text x="512.00" y="523.60" font-size="6.3" text-anchor="end" fill="#2a2a2a" stroke="#2a2a2a" stroke-width="0.17">.071</text>
<line x1="474.00" y1="521.30" x2="479.50" y2="521.30" stroke="#7a4a1c" stroke-width="0.9"/>
<line x1="474.00" y1="519.50" x2="474.00" y2="523.10" stroke="#7a4a1c" stroke-width="0.9"/>
<line x1="479.50" y1="519.50" x2="479.50" y2="523.10" stroke="#7a4a1c" stroke-width="0.9"/>
<polygon points="473.10,521.30 476.70,517.70 480.30,521.30 476.70,524.90" fill="#7a4a1c" stroke="none" stroke-width="0.5"/>
<text x="51.00" y="563.50" font-size="6.3" fill="#2a2a2a" stroke="#2a2a2a" stroke-width="0.17">Alterations</text>
<rect x="51.00" y="566.70" width="4.60" height="4.60" fill="#161616"/>
<text x="59.80" y="571.00" font-size="6.3" fill="#2a2a2a" stroke="#2a2a2a" stroke-width="0.17">Frameshift indel</text>
<rect x="51.00" y="573.90" width="4.60" height="4.60" fill="#2ea2c2"/>
<text x="59.80" y="578.20" font-size="6.3" fill="#2a2a2a" stroke="#2a2a2a" stroke-width="0.17">Missense</text>
<rect x="51.00" y="581.10" width="4.60" height="4.60" fill="#1d4c96"/>
<text x="59.80" y="585.40" font-size="6.3" fill="#2a2a2a" stroke="#2a2a2a" stroke-width="0.17">Stoploss</text>
<text x="110.40" y="563.50" font-size="6.3" fill="#2a2a2a" stroke="#2a2a2a" stroke-width="0.17"></text>
<rect x="110.40" y="564.80" width="4.60" height="4.60" fill="#b0163c"/>
<text x="118.50" y="569.10" font-size="6.3" fill="#2a2a2a" stroke="#2a2a2a" stroke-width="0.17">Stopgain</text>
<rect x="110.40" y="572.50" width="4.60" height="4.60" fill="#f4a99a"/>
<text x="118.50" y="576.80" font-size="6.3" fill="#2a2a2a" stroke="#2a2a2a" stroke-width="0.17">Splicing</text>
<rect x="110.40" y="580.20" width="4.60" height="4.60" fill="#8e63b3"/>
<text x="118.50" y="584.50" font-size="6.3" fill="#2a2a2a" stroke="#2a2a2a" stroke-width="0.17">Nonframeshift indel</text>
<text x="192.30" y="563.50" font-size="6.3" fill="#2a2a2a" stroke="#2a2a2a" stroke-width="0.17">MIPI</text>
<rect x="192.30" y="565.60" width="4.60" height="4.60" fill="#1f9aaa"/>
<text x="201.00" y="569.90" font-size="6.3" fill="#2a2a2a" stroke="#2a2a2a" stroke-width="0.17">1</text>
<rect x="192.30" y="572.80" width="4.60" height="4.60" fill="#f4a99a"/>
<text x="201.00" y="577.10" font-size="6.3" fill="#2a2a2a" stroke="#2a2a2a" stroke-width="0.17">2</text>
<rect x="192.30" y="580.00" width="4.60" height="4.60" fill="#b0163c"/>
<text x="201.00" y="584.30" font-size="6.3" fill="#2a2a2a" stroke="#2a2a2a" stroke-width="0.17">3</text>
<text x="223.80" y="563.50" font-size="6.3" fill="#2a2a2a" stroke="#2a2a2a" stroke-width="0.17">Stage</text>
<rect x="223.80" y="565.60" width="4.60" height="4.60" fill="#1d4c96"/>
<text x="233.00" y="569.90" font-size="6.3" fill="#2a2a2a" stroke="#2a2a2a" stroke-width="0.17">I</text>
<rect x="223.80" y="572.90" width="4.60" height="4.60" fill="#1f9aaa"/>
<text x="233.00" y="577.20" font-size="6.3" fill="#2a2a2a" stroke="#2a2a2a" stroke-width="0.17">II</text>
<rect x="223.80" y="580.20" width="4.60" height="4.60" fill="#f4a99a"/>
<text x="233.00" y="584.50" font-size="6.3" fill="#2a2a2a" stroke="#2a2a2a" stroke-width="0.17">III</text>
<rect x="223.80" y="587.50" width="4.60" height="4.60" fill="#b0163c"/>
<text x="233.00" y="591.80" font-size="6.3" fill="#2a2a2a" stroke="#2a2a2a" stroke-width="0.17">IV</text>
<text x="269.50" y="563.80" font-size="6.5" fill="#2a2a2a" stroke="#2a2a2a" stroke-width="0.18">Age</text>
<text x="259.60" y="570.80" font-size="3.9" fill="#2a2a2a" textLength="31" lengthAdjust="spacingAndGlyphs">50 60 70 80 90</text>
<defs>
<linearGradient id="gAge" x1="0" x2="1" y1="0" y2="0">
<stop offset="0" stop-color="#1a4590"/><stop offset="0.22" stop-color="#30599f"/><stop offset="0.44" stop-color="#d4dcec"/><stop offset="0.5" stop-color="#ffffff"/>
<stop offset="0.6" stop-color="#f8d8d8"/><stop offset="0.82" stop-color="#cc3a52"/><stop offset="1" stop-color="#a00c2a"/>
</linearGradient>
<linearGradient id="gWbc" x1="0" x2="1" y1="0" y2="0">
<stop offset="0" stop-color="#1f4d99"/><stop offset="0.22" stop-color="#7d9ad0"/><stop offset="0.36" stop-color="#f7f7f7"/>
<stop offset="0.55" stop-color="#f2bcbc"/><stop offset="0.8" stop-color="#d8455a"/><stop offset="1" stop-color="#a30f30"/>
</linearGradient>
</defs>
<rect x="260.8" y="573.0" width="28.8" height="5.8" rx="2.5" fill="url(#gAge)"/>
<text x="309.80" y="563.50" font-size="6.3" fill="#2a2a2a" stroke="#2a2a2a" stroke-width="0.17">LDH</text>
<rect x="309.80" y="566.00" width="4.60" height="4.60" fill="#e5191e"/>
<text x="318.50" y="570.30" font-size="6.3" fill="#2a2a2a" stroke="#2a2a2a" stroke-width="0.17">Elevated</text>
<rect x="309.80" y="572.80" width="4.60" height="4.60" fill="#f4f4f4"/>
<text x="318.50" y="577.10" font-size="6.3" fill="#2a2a2a" stroke="#2a2a2a" stroke-width="0.17">Not elevated</text>
<text x="372.70" y="563.50" font-size="6.3" fill="#2a2a2a" stroke="#2a2a2a" stroke-width="0.17">Ibrutinib naive</text>
<rect x="372.70" y="566.00" width="4.60" height="4.60" fill="#3aaa48"/>
<text x="381.00" y="570.30" font-size="6.3" fill="#2a2a2a" stroke="#2a2a2a" stroke-width="0.17">No</text>
<rect x="372.70" y="572.80" width="4.60" height="4.60" fill="#f4f4f4"/>
<text x="381.00" y="577.10" font-size="6.3" fill="#2a2a2a" stroke="#2a2a2a" stroke-width="0.17">Yes</text>
<text x="430.60" y="563.50" font-size="6.3" fill="#2a2a2a" stroke="#2a2a2a" stroke-width="0.17">Subtype</text>
<rect x="430.60" y="566.30" width="4.60" height="4.60" fill="#1f9aaa"/>
<text x="439.20" y="570.60" font-size="6.3" fill="#2a2a2a" stroke="#2a2a2a" stroke-width="0.17">Classical</text>
<rect x="430.60" y="573.60" width="4.60" height="4.60" fill="#e5191e"/>
<text x="439.20" y="577.90" font-size="6.3" fill="#2a2a2a" stroke="#2a2a2a" stroke-width="0.17">Blastoid</text>
<rect x="430.60" y="580.90" width="4.60" height="4.60" fill="#f4a99a"/>
<text x="439.20" y="585.20" font-size="6.3" fill="#2a2a2a" stroke="#2a2a2a" stroke-width="0.17">Pleomorfic</text>
<rect x="430.60" y="588.20" width="4.60" height="4.60" fill="#f4f4f4"/>
<text x="439.20" y="592.50" font-size="6.3" fill="#2a2a2a" stroke="#2a2a2a" stroke-width="0.17">Unknown</text>
<text x="73.50" y="618.60" font-size="6.6" fill="#2a2a2a" stroke="#2a2a2a" stroke-width="0.18">WBC (log10)</text>
<text x="76.00" y="625.60" font-size="3.9" fill="#2a2a2a" textLength="35" lengthAdjust="spacingAndGlyphs">0 0.5 1 1.5 2 2.5</text>
<clipPath id="cWbc"><rect x="75.6" y="626.9" width="34.0" height="5.8" rx="2.4"/></clipPath>
<g clip-path="url(#cWbc)">
<rect x="75.60" y="626.90" width="6.85" height="5.80" fill="#1e4a95"/>
<rect x="82.40" y="626.90" width="1.45" height="5.80" fill="#5a7cbc"/>
<rect x="83.80" y="626.90" width="2.05" height="5.80" fill="#b6c5e2"/>
<rect x="85.80" y="626.90" width="2.95" height="5.80" fill="#ffffff"/>
<rect x="88.70" y="626.90" width="3.85" height="5.80" fill="#f6d2d2"/>
<rect x="92.50" y="626.90" width="3.55" height="5.80" fill="#eeb0b0"/>
<rect x="96.00" y="626.90" width="5.85" height="5.80" fill="#d9767e"/>
<rect x="101.80" y="626.90" width="0.85" height="5.80" fill="#e89aa0"/>
<rect x="102.60" y="626.90" width="7.05" height="5.80" fill="#c0102e"/>
</g>
<text x="130.50" y="618.60" font-size="6.3" fill="#2a2a2a" stroke="#2a2a2a" stroke-width="0.17">Treatment lines</text>
<rect x="130.50" y="621.50" width="4.60" height="4.60" fill="#1d4c96"/>
<text x="138.00" y="625.80" font-size="6.3" fill="#2a2a2a" stroke="#2a2a2a" stroke-width="0.17">1</text>
<rect x="130.50" y="628.20" width="4.60" height="4.60" fill="#1f9aaa"/>
<text x="138.00" y="632.50" font-size="6.3" fill="#2a2a2a" stroke="#2a2a2a" stroke-width="0.17">2</text>
<rect x="130.50" y="634.90" width="4.60" height="4.60" fill="#b0163c"/>
<text x="138.00" y="639.20" font-size="6.3" fill="#2a2a2a" stroke="#2a2a2a" stroke-width="0.17">≥3</text>
<text x="192.50" y="618.60" font-size="6.3" fill="#2a2a2a" stroke="#2a2a2a" stroke-width="0.17">Autologous SCT</text>
<rect x="192.50" y="621.50" width="4.60" height="4.60" fill="#8e63b3"/>
<text x="200.60" y="625.80" font-size="6.3" fill="#2a2a2a" stroke="#2a2a2a" stroke-width="0.17">Has received</text>
<rect x="192.50" y="628.30" width="4.60" height="4.60" fill="#f4f4f4"/>
<text x="200.60" y="632.60" font-size="6.3" fill="#2a2a2a" stroke="#2a2a2a" stroke-width="0.17">No</text>
<text x="258.20" y="618.60" font-size="6.3" fill="#2a2a2a" stroke="#2a2a2a" stroke-width="0.17">Progression/Death</text>
<rect x="258.20" y="621.50" width="4.60" height="4.60" fill="#161616"/>
<text x="267.00" y="625.80" font-size="6.3" fill="#2a2a2a" stroke="#2a2a2a" stroke-width="0.17">Yes</text>
<rect x="258.20" y="628.30" width="4.60" height="4.60" fill="#f4f4f4"/>
<text x="267.00" y="632.60" font-size="6.3" fill="#2a2a2a" stroke="#2a2a2a" stroke-width="0.17">No</text>
<text x="330.20" y="618.60" font-size="6.3" fill="#2a2a2a" stroke="#2a2a2a" stroke-width="0.17">Response to Ven–R2</text>
<rect x="330.20" y="621.50" width="4.60" height="4.60" fill="#b0163c"/>
<text x="338.80" y="625.80" font-size="6.3" fill="#2a2a2a" stroke="#2a2a2a" stroke-width="0.17">PD</text>
<rect x="359.00" y="621.50" width="4.60" height="4.60" fill="#2ea2c2"/>
<text x="366.30" y="625.80" font-size="6.3" fill="#2a2a2a" stroke="#2a2a2a" stroke-width="0.17">CR</text>
<rect x="389.50" y="621.50" width="4.60" height="4.60" fill="#1d4c96"/>
<text x="397.50" y="625.80" font-size="6.3" fill="#2a2a2a" stroke="#2a2a2a" stroke-width="0.17">MRD–Neg–Stop</text>
<rect x="330.20" y="630.20" width="4.60" height="4.60" fill="#3aaa48"/>
<text x="338.80" y="634.50" font-size="6.3" fill="#2a2a2a" stroke="#2a2a2a" stroke-width="0.17">Limiting Toxicity</text>
<rect x="389.50" y="630.20" width="4.60" height="4.60" fill="#f4a99a"/>
<text x="397.50" y="634.50" font-size="6.3" fill="#2a2a2a" stroke="#2a2a2a" stroke-width="0.17">Other</text>
<rect x="0" y="0" width="520" height="1" fill="#575757"/><rect x="0" y="648" width="520" height="1" fill="#505050"/><rect x="0" y="0" width="1" height="649" fill="#575757"/><rect x="519" y="0" width="1" height="649" fill="#505050"/>
</svg>
</body></html>
